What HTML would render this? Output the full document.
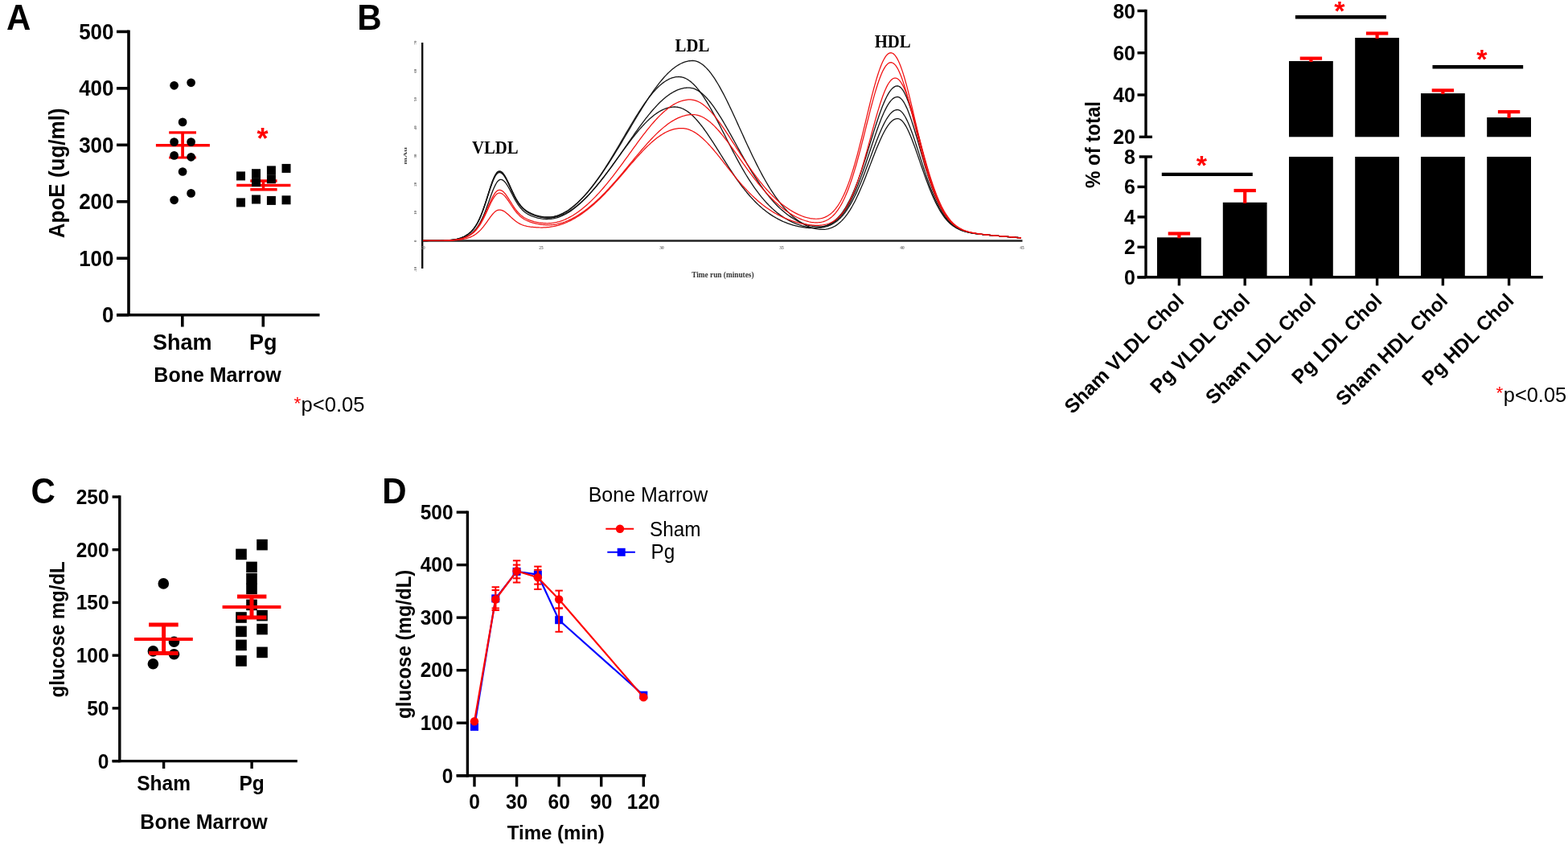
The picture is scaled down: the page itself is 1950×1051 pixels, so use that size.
<!DOCTYPE html>
<html><head><meta charset="utf-8"><title>Figure</title>
<style>html,body{margin:0;padding:0;background:#fff;}svg{display:block;}</style>
</head><body>
<svg width="1950" height="1051" viewBox="0 0 1950 1051">
<rect width="100%" height="100%" fill="#fff"/>
<text transform="translate(7.95,37) scale(1,1.04)" font-family="'Liberation Sans', Arial, sans-serif" font-size="42" font-weight="bold" fill="#000" text-anchor="start">A</text>
<line x1="160" y1="37.6" x2="160" y2="391.7" stroke="#000" stroke-width="3.6" stroke-linecap="butt"/>
<line x1="145" y1="391.7" x2="397.5" y2="391.7" stroke="#000" stroke-width="3.6" stroke-linecap="butt"/>
<line x1="145" y1="391.7" x2="160" y2="391.7" stroke="#000" stroke-width="3.6" stroke-linecap="butt"/>
<text transform="translate(141.5,401) scale(1,1.04)" font-family="'Liberation Sans', Arial, sans-serif" font-size="26" font-weight="bold" fill="#000" text-anchor="end">0</text>
<line x1="145" y1="321.24" x2="160" y2="321.24" stroke="#000" stroke-width="3.6" stroke-linecap="butt"/>
<text transform="translate(141.5,330.54) scale(1,1.04)" font-family="'Liberation Sans', Arial, sans-serif" font-size="26" font-weight="bold" fill="#000" text-anchor="end">100</text>
<line x1="145" y1="250.78" x2="160" y2="250.78" stroke="#000" stroke-width="3.6" stroke-linecap="butt"/>
<text transform="translate(141.5,260.08) scale(1,1.04)" font-family="'Liberation Sans', Arial, sans-serif" font-size="26" font-weight="bold" fill="#000" text-anchor="end">200</text>
<line x1="145" y1="180.32" x2="160" y2="180.32" stroke="#000" stroke-width="3.6" stroke-linecap="butt"/>
<text transform="translate(141.5,189.62) scale(1,1.04)" font-family="'Liberation Sans', Arial, sans-serif" font-size="26" font-weight="bold" fill="#000" text-anchor="end">300</text>
<line x1="145" y1="109.86" x2="160" y2="109.86" stroke="#000" stroke-width="3.6" stroke-linecap="butt"/>
<text transform="translate(141.5,119.16) scale(1,1.04)" font-family="'Liberation Sans', Arial, sans-serif" font-size="26" font-weight="bold" fill="#000" text-anchor="end">400</text>
<line x1="145" y1="39.4" x2="160" y2="39.4" stroke="#000" stroke-width="3.6" stroke-linecap="butt"/>
<text transform="translate(141.5,48.7) scale(1,1.04)" font-family="'Liberation Sans', Arial, sans-serif" font-size="26" font-weight="bold" fill="#000" text-anchor="end">500</text>
<line x1="226.8" y1="391.7" x2="226.8" y2="406.5" stroke="#000" stroke-width="3.6" stroke-linecap="butt"/>
<line x1="327.3" y1="391.7" x2="327.3" y2="406.5" stroke="#000" stroke-width="3.6" stroke-linecap="butt"/>
<text transform="translate(226.8,434.6) scale(1,1.04)" font-family="'Liberation Sans', Arial, sans-serif" font-size="27" font-weight="bold" fill="#000" text-anchor="middle">Sham</text>
<text transform="translate(327.3,434.6) scale(1,1.04)" font-family="'Liberation Sans', Arial, sans-serif" font-size="27" font-weight="bold" fill="#000" text-anchor="middle">Pg</text>
<text transform="translate(270.5,475.2) scale(1,1.04)" font-family="'Liberation Sans', Arial, sans-serif" font-size="25" font-weight="bold" fill="#000" text-anchor="middle">Bone Marrow</text>
<text transform="translate(80,215.3) rotate(-90) scale(1,1.04)" font-family="'Liberation Sans', Arial, sans-serif" font-size="26" font-weight="bold" fill="#000" text-anchor="middle">ApoE (ug/ml)</text>
<text transform="translate(374.5,512.2)" font-family="'Liberation Sans', Arial, sans-serif" font-size="25.6" font-weight="normal" fill="#000" text-anchor="start">p&lt;0.05</text>
<text transform="translate(365.41,509.23)" font-family="'Liberation Sans', Arial, sans-serif" font-size="22.5" font-weight="normal" fill="#ff0000" text-anchor="start">*</text>
<line x1="193.9" y1="180.7" x2="260.9" y2="180.7" stroke="#ff0000" stroke-width="3.5" stroke-linecap="butt"/>
<line x1="227.1" y1="164.8" x2="227.1" y2="196" stroke="#ff0000" stroke-width="3.8" stroke-linecap="butt"/>
<line x1="210.2" y1="164.8" x2="244" y2="164.8" stroke="#ff0000" stroke-width="3.2" stroke-linecap="butt"/>
<line x1="210.2" y1="196" x2="244" y2="196" stroke="#ff0000" stroke-width="3.2" stroke-linecap="butt"/>
<line x1="294.2" y1="230.4" x2="361.4" y2="230.4" stroke="#ff0000" stroke-width="3.5" stroke-linecap="butt"/>
<line x1="327.5" y1="225" x2="327.5" y2="235.7" stroke="#ff0000" stroke-width="3.5" stroke-linecap="butt"/>
<line x1="311.3" y1="225" x2="344.6" y2="225" stroke="#ff0000" stroke-width="3.5" stroke-linecap="butt"/>
<line x1="311.3" y1="235.7" x2="344.6" y2="235.7" stroke="#ff0000" stroke-width="3.5" stroke-linecap="butt"/>
<circle cx="216.6" cy="106.3" r="5.35" fill="#000"/>
<circle cx="237.6" cy="102.8" r="5.35" fill="#000"/>
<circle cx="227.1" cy="151.9" r="5.35" fill="#000"/>
<circle cx="216.6" cy="176.6" r="5.35" fill="#000"/>
<circle cx="237.6" cy="176.6" r="5.35" fill="#000"/>
<circle cx="216.6" cy="193.4" r="5.35" fill="#000"/>
<circle cx="237.6" cy="195.3" r="5.35" fill="#000"/>
<circle cx="227.1" cy="213.5" r="5.35" fill="#000"/>
<circle cx="237.6" cy="240.4" r="5.35" fill="#000"/>
<circle cx="216.6" cy="248.8" r="5.35" fill="#000"/>
<rect x="294" y="213.4" width="11" height="11" fill="#000"/>
<rect x="313" y="210.2" width="11" height="11" fill="#000"/>
<rect x="331.9" y="206.4" width="11" height="11" fill="#000"/>
<rect x="350.5" y="203.9" width="11" height="11" fill="#000"/>
<rect x="313" y="221.1" width="11" height="11" fill="#000"/>
<rect x="331.9" y="217.2" width="11" height="11" fill="#000"/>
<rect x="294" y="246.4" width="11" height="11" fill="#000"/>
<rect x="313" y="242.5" width="11" height="11" fill="#000"/>
<rect x="331.9" y="243.9" width="11" height="11" fill="#000"/>
<rect x="350.5" y="243.3" width="11" height="11" fill="#000"/>
<text transform="translate(319.46,184.67)" font-family="'Liberation Sans', Arial, sans-serif" font-size="36" font-weight="bold" fill="#ff0000" text-anchor="start">*</text>
<text transform="translate(444.19,37) scale(1,1.04)" font-family="'Liberation Sans', Arial, sans-serif" font-size="42" font-weight="bold" fill="#000" text-anchor="start">B</text>
<g>
<line x1="525.2" y1="53" x2="525.2" y2="334" stroke="#111" stroke-width="2.4" stroke-linecap="butt"/>
<line x1="525.2" y1="299.5" x2="1271.5" y2="299.5" stroke="#222" stroke-width="2.6" stroke-linecap="butt"/>
<text transform="translate(517.6,53) rotate(-90)" font-family="'Liberation Serif', 'Times New Roman', serif" font-size="5" font-weight="bold" fill="#666" text-anchor="middle">70</text>
<text transform="translate(517.6,88.25) rotate(-90)" font-family="'Liberation Serif', 'Times New Roman', serif" font-size="5" font-weight="bold" fill="#666" text-anchor="middle">60</text>
<text transform="translate(517.6,123.5) rotate(-90)" font-family="'Liberation Serif', 'Times New Roman', serif" font-size="5" font-weight="bold" fill="#666" text-anchor="middle">50</text>
<text transform="translate(517.6,158.75) rotate(-90)" font-family="'Liberation Serif', 'Times New Roman', serif" font-size="5" font-weight="bold" fill="#666" text-anchor="middle">40</text>
<text transform="translate(517.6,194) rotate(-90)" font-family="'Liberation Serif', 'Times New Roman', serif" font-size="5" font-weight="bold" fill="#666" text-anchor="middle">30</text>
<text transform="translate(517.6,229.25) rotate(-90)" font-family="'Liberation Serif', 'Times New Roman', serif" font-size="5" font-weight="bold" fill="#666" text-anchor="middle">20</text>
<text transform="translate(517.6,264.5) rotate(-90)" font-family="'Liberation Serif', 'Times New Roman', serif" font-size="5" font-weight="bold" fill="#666" text-anchor="middle">10</text>
<text transform="translate(517.6,299.75) rotate(-90)" font-family="'Liberation Serif', 'Times New Roman', serif" font-size="5" font-weight="bold" fill="#666" text-anchor="middle">0</text>
<text transform="translate(517.6,335) rotate(-90)" font-family="'Liberation Serif', 'Times New Roman', serif" font-size="5" font-weight="bold" fill="#666" text-anchor="middle">-10</text>
<text transform="translate(526,309.5)" font-family="'Liberation Serif', 'Times New Roman', serif" font-size="5.5" font-weight="bold" fill="#777" text-anchor="middle">20</text>
<text transform="translate(673,309.5)" font-family="'Liberation Serif', 'Times New Roman', serif" font-size="5.5" font-weight="bold" fill="#777" text-anchor="middle">25</text>
<text transform="translate(823,309.5)" font-family="'Liberation Serif', 'Times New Roman', serif" font-size="5.5" font-weight="bold" fill="#777" text-anchor="middle">30</text>
<text transform="translate(972,309.5)" font-family="'Liberation Serif', 'Times New Roman', serif" font-size="5.5" font-weight="bold" fill="#777" text-anchor="middle">35</text>
<text transform="translate(1122,309.5)" font-family="'Liberation Serif', 'Times New Roman', serif" font-size="5.5" font-weight="bold" fill="#777" text-anchor="middle">40</text>
<text transform="translate(1271,309.5)" font-family="'Liberation Serif', 'Times New Roman', serif" font-size="5.5" font-weight="bold" fill="#777" text-anchor="middle">45</text>
<text transform="translate(506.3,193.7) rotate(-90) scale(1.45,1)" font-family="'Liberation Serif', 'Times New Roman', serif" font-size="7" font-weight="bold" fill="#444" text-anchor="middle">mAu</text>
<text transform="translate(898.9,344.9)" font-family="'Liberation Serif', 'Times New Roman', serif" font-size="9.3" font-weight="bold" fill="#333" text-anchor="middle">Time run (minutes)</text>
<text transform="translate(615.8,191.1) scale(1,1.07)" font-family="'Liberation Serif', 'Times New Roman', serif" font-size="20.8" font-weight="bold" fill="#000" text-anchor="middle">VLDL</text>
<text transform="translate(861,64) scale(1,1.07)" font-family="'Liberation Serif', 'Times New Roman', serif" font-size="20.8" font-weight="bold" fill="#000" text-anchor="middle">LDL</text>
<text transform="translate(1110.2,58.8) scale(1,1.07)" font-family="'Liberation Serif', 'Times New Roman', serif" font-size="20.8" font-weight="bold" fill="#000" text-anchor="middle">HDL</text>
<path d="M526 299.46 L527.5 299.46 L529 299.45 L530.5 299.45 L532 299.44 L533.5 299.44 L535 299.43 L536.5 299.42 L538 299.41 L539.5 299.39 L541 299.38 L542.5 299.36 L544 299.34 L545.5 299.31 L547 299.28 L548.5 299.24 L550 299.19 L551.5 299.14 L553 299.07 L554.5 299 L556 298.9 L557.5 298.8 L559 298.67 L560.5 298.52 L562 298.34 L563.5 298.14 L565 297.91 L566.5 297.63 L568 297.32 L569.5 296.96 L571 296.56 L572.5 296.09 L574 295.56 L575.5 294.96 L577 294.27 L578.5 293.5 L580 292.63 L581.5 291.65 L583 290.53 L584.5 289.27 L586 287.85 L587.5 286.24 L589 284.42 L590.5 282.38 L592 280.08 L593.5 277.5 L595 274.63 L596.5 271.45 L598 267.95 L599.5 264.15 L601 260.06 L602.5 255.7 L604 251.13 L605.5 246.41 L607 241.62 L608.5 236.86 L610 232.23 L611.5 227.85 L613 223.83 L614.5 220.3 L616 217.35 L617.5 215.08 L619 213.56 L620.5 212.85 L622 212.88 L623.5 213.54 L625 214.79 L626.5 216.57 L628 218.82 L629.5 221.47 L631 224.42 L632.5 227.58 L634 230.86 L635.5 234.19 L637 237.47 L638.5 240.65 L640 243.68 L641.5 246.52 L643 249.15 L644.5 251.55 L646 253.73 L647.5 255.68 L649 257.43 L650.5 258.99 L652 260.37 L653.5 261.61 L655 262.71 L656.5 263.69 L658 264.58 L659.5 265.38 L661 266.11 L662.5 266.77 L664 267.36 L665.5 267.91 L667 268.4 L668.5 268.84 L670 269.23 L671.5 269.57 L673 269.86 L674.5 270.09 L676 270.28 L677.5 270.41 L679 270.48 L680.5 270.5 L682 270.46 L683.5 270.37 L685 270.21 L686.5 270 L688 269.73 L689.5 269.39 L691 269 L692.5 268.56 L694 268.05 L695.5 267.48 L697 266.86 L698.5 266.18 L700 265.44 L701.5 264.64 L703 263.79 L704.5 262.89 L706 261.93 L707.5 260.92 L709 259.86 L710.5 258.74 L712 257.58 L713.5 256.36 L715 255.1 L716.5 253.79 L718 252.43 L719.5 251.02 L721 249.57 L722.5 248.08 L724 246.54 L725.5 244.96 L727 243.33 L728.5 241.66 L730 239.96 L731.5 238.21 L733 236.42 L734.5 234.59 L736 232.73 L737.5 230.83 L739 228.89 L740.5 226.91 L742 224.9 L743.5 222.86 L745 220.78 L746.5 218.67 L748 216.53 L749.5 214.36 L751 212.16 L752.5 209.93 L754 207.67 L755.5 205.38 L757 203.07 L758.5 200.73 L760 198.37 L761.5 195.99 L763 193.59 L764.5 191.17 L766 188.72 L767.5 186.27 L769 183.79 L770.5 181.31 L772 178.81 L773.5 176.3 L775 173.78 L776.5 171.25 L778 168.72 L779.5 166.18 L781 163.64 L782.5 161.1 L784 158.57 L785.5 156.03 L787 153.5 L788.5 150.98 L790 148.47 L791.5 145.96 L793 143.47 L794.5 141 L796 138.54 L797.5 136.1 L799 133.68 L800.5 131.29 L802 128.92 L803.5 126.57 L805 124.26 L806.5 121.98 L808 119.73 L809.5 117.52 L811 115.34 L812.5 113.2 L814 111.1 L815.5 109.05 L817 107.04 L818.5 105.08 L820 103.17 L821.5 101.31 L823 99.5 L824.5 97.75 L826 96.05 L827.5 94.41 L829 92.83 L830.5 91.3 L832 89.85 L833.5 88.45 L835 87.12 L836.5 85.86 L838 84.66 L839.5 83.54 L841 82.48 L842.5 81.49 L844 80.58 L845.5 79.74 L847 78.98 L848.5 78.28 L850 77.67 L851.5 77.13 L853 76.66 L854.5 76.28 L856 75.97 L857.5 75.74 L859 75.58 L860.5 75.51 L862 75.52 L863.5 75.67 L865 75.96 L866.5 76.39 L868 76.96 L869.5 77.66 L871 78.49 L872.5 79.46 L874 80.56 L875.5 81.79 L877 83.15 L878.5 84.63 L880 86.23 L881.5 87.94 L883 89.78 L884.5 91.72 L886 93.77 L887.5 95.93 L889 98.19 L890.5 100.54 L892 102.98 L893.5 105.51 L895 108.13 L896.5 110.82 L898 113.59 L899.5 116.42 L901 119.32 L902.5 122.28 L904 125.3 L905.5 128.36 L907 131.47 L908.5 134.62 L910 137.81 L911.5 141.02 L913 144.27 L914.5 147.53 L916 150.81 L917.5 154.11 L919 157.41 L920.5 160.72 L922 164.02 L923.5 167.32 L925 170.62 L926.5 173.9 L928 177.17 L929.5 180.42 L931 183.64 L932.5 186.84 L934 190.01 L935.5 193.16 L937 196.26 L938.5 199.33 L940 202.36 L941.5 205.35 L943 208.3 L944.5 211.2 L946 214.05 L947.5 216.85 L949 219.6 L950.5 222.3 L952 224.95 L953.5 227.54 L955 230.07 L956.5 232.55 L958 234.97 L959.5 237.33 L961 239.63 L962.5 241.88 L964 244.06 L965.5 246.18 L967 248.24 L968.5 250.25 L970 252.19 L971.5 254.07 L973 255.89 L974.5 257.65 L976 259.36 L977.5 261 L979 262.59 L980.5 264.12 L982 265.59 L983.5 267.01 L985 268.37 L986.5 269.68 L988 270.93 L989.5 272.13 L991 273.27 L992.5 274.36 L994 275.41 L995.5 276.4 L997 277.33 L998.5 278.22 L1000 279.06 L1001.5 279.85 L1003 280.59 L1004.5 281.28 L1006 281.92 L1007.5 282.51 L1009 283.05 L1010.5 283.54 L1012 283.97 L1013.5 284.36 L1015 284.69 L1016.5 284.96 L1018 285.18 L1019.5 285.33 L1021 285.43 L1022.5 285.46 L1024 285.43 L1025.5 285.33 L1027 285.16 L1028.5 284.92 L1030 284.59 L1031.5 284.19 L1033 283.7 L1034.5 283.12 L1036 282.46 L1037.5 281.69 L1039 280.83 L1040.5 279.86 L1042 278.78 L1043.5 277.59 L1045 276.29 L1046.5 274.87 L1048 273.32 L1049.5 271.65 L1051 269.85 L1052.5 267.92 L1054 265.86 L1055.5 263.67 L1057 261.34 L1058.5 258.87 L1060 256.28 L1061.5 253.55 L1063 250.69 L1064.5 247.7 L1066 244.59 L1067.5 241.36 L1069 238.02 L1070.5 234.57 L1072 231.02 L1073.5 227.39 L1075 223.68 L1076.5 219.9 L1078 216.07 L1079.5 212.19 L1081 208.29 L1082.5 204.37 L1084 200.45 L1085.5 196.55 L1087 192.68 L1088.5 188.86 L1090 185.11 L1091.5 181.45 L1093 177.89 L1094.5 174.46 L1096 171.16 L1097.5 168.02 L1099 165.05 L1100.5 162.27 L1102 159.69 L1103.5 157.32 L1105 155.19 L1106.5 153.3 L1108 151.67 L1109.5 150.29 L1111 149.19 L1112.5 148.35 L1114 147.8 L1115.5 147.53 L1117 147.56 L1118.5 148 L1120 148.83 L1121.5 150.05 L1123 151.65 L1124.5 153.62 L1126 155.92 L1127.5 158.55 L1129 161.48 L1130.5 164.68 L1132 168.13 L1133.5 171.8 L1135 175.65 L1136.5 179.67 L1138 183.81 L1139.5 188.05 L1141 192.36 L1142.5 196.71 L1144 201.09 L1145.5 205.46 L1147 209.8 L1148.5 214.1 L1150 218.34 L1151.5 222.5 L1153 226.57 L1154.5 230.53 L1156 234.39 L1157.5 238.11 L1159 241.71 L1160.5 245.17 L1162 248.49 L1163.5 251.66 L1165 254.68 L1166.5 257.54 L1168 260.25 L1169.5 262.81 L1171 265.21 L1172.5 267.45 L1174 269.55 L1175.5 271.5 L1177 273.31 L1178.5 274.99 L1180 276.53 L1181.5 277.95 L1183 279.25 L1184.5 280.45 L1186 281.54 L1187.5 282.53 L1189 283.44 L1190.5 284.26 L1192 285.01 L1193.5 285.68 L1195 286.3 L1196.5 286.85 L1198 287.36 L1199.5 287.82 L1201 288.24 L1202.5 288.62 L1204 288.96 L1205.5 289.28 L1207 289.57 L1208.5 289.84 L1210 290.09 L1211.5 290.32 L1213 290.54 L1214.5 290.74 L1216 290.94 L1217.5 291.12 L1219 291.29 L1220.5 291.46 L1222 291.62 L1223.5 291.78 L1225 291.93 L1226.5 292.07 L1228 292.22 L1229.5 292.36 L1231 292.5 L1232.5 292.64 L1234 292.77 L1235.5 292.91 L1237 293.04 L1238.5 293.18 L1240 293.31 L1241.5 293.44 L1243 293.57 L1244.5 293.7 L1246 293.83 L1247.5 293.97 L1249 294.1 L1250.5 294.23 L1252 294.36 L1253.5 294.49 L1255 294.62 L1256.5 294.75 L1258 294.88 L1259.5 295.01 L1261 295.14 L1262.5 295.27 L1264 295.39 L1265.5 295.52 L1267 295.65 L1268.5 295.78 L1270 295.91" fill="none" stroke="#151515" stroke-width="1.3" stroke-linejoin="round"/>
<path d="M526 299.49 L527.5 299.49 L529 299.48 L530.5 299.48 L532 299.48 L533.5 299.47 L535 299.47 L536.5 299.46 L538 299.45 L539.5 299.44 L541 299.43 L542.5 299.42 L544 299.4 L545.5 299.37 L547 299.35 L548.5 299.31 L550 299.27 L551.5 299.22 L553 299.16 L554.5 299.09 L556 299 L557.5 298.9 L559 298.78 L560.5 298.64 L562 298.47 L563.5 298.28 L565 298.05 L566.5 297.79 L568 297.49 L569.5 297.14 L571 296.74 L572.5 296.28 L574 295.76 L575.5 295.17 L577 294.5 L578.5 293.74 L580 292.89 L581.5 291.91 L583 290.81 L584.5 289.57 L586 288.16 L587.5 286.57 L589 284.77 L590.5 282.73 L592 280.45 L593.5 277.89 L595 275.03 L596.5 271.87 L598 268.4 L599.5 264.61 L601 260.53 L602.5 256.2 L604 251.64 L605.5 246.94 L607 242.17 L608.5 237.43 L610 232.81 L611.5 228.45 L613 224.45 L614.5 220.93 L616 218 L617.5 215.75 L619 214.25 L620.5 213.54 L622 213.59 L623.5 214.26 L625 215.52 L626.5 217.3 L628 219.56 L629.5 222.2 L631 225.14 L632.5 228.28 L634 231.54 L635.5 234.83 L637 238.08 L638.5 241.22 L640 244.2 L641.5 246.98 L643 249.54 L644.5 251.87 L646 253.97 L647.5 255.84 L649 257.51 L650.5 258.98 L652 260.28 L653.5 261.43 L655 262.46 L656.5 263.37 L658 264.19 L659.5 264.94 L661 265.61 L662.5 266.23 L664 266.8 L665.5 267.32 L667 267.79 L668.5 268.22 L670 268.61 L671.5 268.95 L673 269.25 L674.5 269.51 L676 269.71 L677.5 269.86 L679 269.96 L680.5 270.01 L682 270 L683.5 269.94 L685 269.82 L686.5 269.64 L688 269.4 L689.5 269.1 L691 268.75 L692.5 268.33 L694 267.85 L695.5 267.32 L697 266.72 L698.5 266.07 L700 265.35 L701.5 264.58 L703 263.75 L704.5 262.87 L706 261.93 L707.5 260.93 L709 259.88 L710.5 258.77 L712 257.61 L713.5 256.4 L715 255.14 L716.5 253.82 L718 252.46 L719.5 251.05 L721 249.59 L722.5 248.08 L724 246.52 L725.5 244.92 L727 243.27 L728.5 241.58 L730 239.84 L731.5 238.06 L733 236.24 L734.5 234.37 L736 232.47 L737.5 230.52 L739 228.53 L740.5 226.51 L742 224.44 L743.5 222.34 L745 220.2 L746.5 218.02 L748 215.82 L749.5 213.57 L751 211.3 L752.5 208.99 L754 206.65 L755.5 204.29 L757 201.9 L758.5 199.48 L760 197.04 L761.5 194.58 L763 192.1 L764.5 189.6 L766 187.08 L767.5 184.55 L769 182.01 L770.5 179.46 L772 176.9 L773.5 174.34 L775 171.77 L776.5 169.21 L778 166.64 L779.5 164.09 L781 161.54 L782.5 159 L784 156.48 L785.5 153.97 L787 151.48 L788.5 149.01 L790 146.57 L791.5 144.15 L793 141.76 L794.5 139.41 L796 137.09 L797.5 134.8 L799 132.56 L800.5 130.37 L802 128.21 L803.5 126.11 L805 124.06 L806.5 122.06 L808 120.12 L809.5 118.24 L811 116.41 L812.5 114.65 L814 112.96 L815.5 111.33 L817 109.78 L818.5 108.29 L820 106.88 L821.5 105.55 L823 104.29 L824.5 103.11 L826 102.01 L827.5 100.99 L829 100.06 L830.5 99.21 L832 98.44 L833.5 97.77 L835 97.17 L836.5 96.67 L838 96.26 L839.5 95.93 L841 95.7 L842.5 95.55 L844 95.5 L845.5 95.55 L847 95.73 L848.5 96.04 L850 96.47 L851.5 97.02 L853 97.7 L854.5 98.5 L856 99.42 L857.5 100.46 L859 101.62 L860.5 102.89 L862 104.27 L863.5 105.76 L865 107.35 L866.5 109.05 L868 110.85 L869.5 112.75 L871 114.74 L872.5 116.81 L874 118.97 L875.5 121.22 L877 123.54 L878.5 125.93 L880 128.4 L881.5 130.92 L883 133.51 L884.5 136.15 L886 138.85 L887.5 141.59 L889 144.37 L890.5 147.19 L892 150.04 L893.5 152.92 L895 155.82 L896.5 158.74 L898 161.68 L899.5 164.62 L901 167.58 L902.5 170.53 L904 173.48 L905.5 176.43 L907 179.37 L908.5 182.29 L910 185.2 L911.5 188.09 L913 190.95 L914.5 193.78 L916 196.59 L917.5 199.37 L919 202.11 L920.5 204.81 L922 207.48 L923.5 210.1 L925 212.68 L926.5 215.22 L928 217.72 L929.5 220.16 L931 222.56 L932.5 224.91 L934 227.21 L935.5 229.46 L937 231.66 L938.5 233.81 L940 235.91 L941.5 237.95 L943 239.95 L944.5 241.89 L946 243.78 L947.5 245.62 L949 247.4 L950.5 249.14 L952 250.82 L953.5 252.46 L955 254.04 L956.5 255.58 L958 257.06 L959.5 258.5 L961 259.89 L962.5 261.23 L964 262.52 L965.5 263.77 L967 264.97 L968.5 266.13 L970 267.24 L971.5 268.31 L973 269.34 L974.5 270.33 L976 271.27 L977.5 272.18 L979 273.05 L980.5 273.87 L982 274.66 L983.5 275.42 L985 276.13 L986.5 276.82 L988 277.46 L989.5 278.08 L991 278.66 L992.5 279.2 L994 279.72 L995.5 280.2 L997 280.65 L998.5 281.06 L1000 281.45 L1001.5 281.8 L1003 282.12 L1004.5 282.41 L1006 282.67 L1007.5 282.89 L1009 283.07 L1010.5 283.22 L1012 283.34 L1013.5 283.41 L1015 283.44 L1016.5 283.43 L1018 283.38 L1019.5 283.28 L1021 283.13 L1022.5 282.93 L1024 282.68 L1025.5 282.36 L1027 281.99 L1028.5 281.54 L1030 281.03 L1031.5 280.45 L1033 279.79 L1034.5 279.05 L1036 278.22 L1037.5 277.3 L1039 276.29 L1040.5 275.17 L1042 273.95 L1043.5 272.63 L1045 271.19 L1046.5 269.63 L1048 267.96 L1049.5 266.16 L1051 264.23 L1052.5 262.17 L1054 259.98 L1055.5 257.65 L1057 255.19 L1058.5 252.6 L1060 249.87 L1061.5 247 L1063 244 L1064.5 240.87 L1066 237.62 L1067.5 234.24 L1069 230.75 L1070.5 227.16 L1072 223.46 L1073.5 219.67 L1075 215.79 L1076.5 211.85 L1078 207.85 L1079.5 203.81 L1081 199.73 L1082.5 195.64 L1084 191.55 L1085.5 187.48 L1087 183.44 L1088.5 179.46 L1090 175.55 L1091.5 171.72 L1093 168.01 L1094.5 164.42 L1096 160.98 L1097.5 157.7 L1099 154.6 L1100.5 151.7 L1102 149.01 L1103.5 146.55 L1105 144.34 L1106.5 142.38 L1108 140.69 L1109.5 139.27 L1111 138.14 L1112.5 137.3 L1114 136.76 L1115.5 136.52 L1117 136.6 L1118.5 137.1 L1120 138.03 L1121.5 139.38 L1123 141.13 L1124.5 143.27 L1126 145.77 L1127.5 148.62 L1129 151.78 L1130.5 155.24 L1132 158.97 L1133.5 162.92 L1135 167.08 L1136.5 171.41 L1138 175.88 L1139.5 180.45 L1141 185.1 L1142.5 189.8 L1144 194.51 L1145.5 199.23 L1147 203.91 L1148.5 208.55 L1150 213.12 L1151.5 217.61 L1153 221.99 L1154.5 226.27 L1156 230.42 L1157.5 234.44 L1159 238.31 L1160.5 242.04 L1162 245.6 L1163.5 249.01 L1165 252.26 L1166.5 255.33 L1168 258.24 L1169.5 260.98 L1171 263.55 L1172.5 265.96 L1174 268.21 L1175.5 270.3 L1177 272.23 L1178.5 274.02 L1180 275.67 L1181.5 277.19 L1183 278.58 L1184.5 279.85 L1186 281.01 L1187.5 282.07 L1189 283.03 L1190.5 283.91 L1192 284.7 L1193.5 285.42 L1195 286.07 L1196.5 286.65 L1198 287.19 L1199.5 287.67 L1201 288.11 L1202.5 288.51 L1204 288.87 L1205.5 289.2 L1207 289.51 L1208.5 289.78 L1210 290.04 L1211.5 290.28 L1213 290.51 L1214.5 290.71 L1216 290.91 L1217.5 291.1 L1219 291.28 L1220.5 291.44 L1222 291.61 L1223.5 291.77 L1225 291.92 L1226.5 292.07 L1228 292.21 L1229.5 292.36 L1231 292.5 L1232.5 292.63 L1234 292.77 L1235.5 292.91 L1237 293.04 L1238.5 293.18 L1240 293.31 L1241.5 293.44 L1243 293.57 L1244.5 293.7 L1246 293.83 L1247.5 293.96 L1249 294.1 L1250.5 294.23 L1252 294.36 L1253.5 294.49 L1255 294.62 L1256.5 294.75 L1258 294.88 L1259.5 295.01 L1261 295.14 L1262.5 295.26 L1264 295.39 L1265.5 295.52 L1267 295.65 L1268.5 295.78 L1270 295.91" fill="none" stroke="#151515" stroke-width="1.3" stroke-linejoin="round"/>
<path d="M526 299.47 L527.5 299.46 L529 299.46 L530.5 299.45 L532 299.45 L533.5 299.44 L535 299.43 L536.5 299.43 L538 299.41 L539.5 299.4 L541 299.39 L542.5 299.37 L544 299.35 L545.5 299.32 L547 299.29 L548.5 299.25 L550 299.21 L551.5 299.16 L553 299.09 L554.5 299.02 L556 298.93 L557.5 298.82 L559 298.7 L560.5 298.55 L562 298.38 L563.5 298.18 L565 297.95 L566.5 297.69 L568 297.38 L569.5 297.03 L571 296.63 L572.5 296.18 L574 295.66 L575.5 295.07 L577 294.4 L578.5 293.65 L580 292.79 L581.5 291.83 L583 290.74 L584.5 289.5 L586 288.11 L587.5 286.53 L589 284.75 L590.5 282.74 L592 280.49 L593.5 277.96 L595 275.14 L596.5 272.03 L598 268.6 L599.5 264.87 L601 260.86 L602.5 256.58 L604 252.1 L605.5 247.47 L607 242.78 L608.5 238.1 L610 233.56 L611.5 229.26 L613 225.32 L614.5 221.85 L616 218.96 L617.5 216.74 L619 215.25 L620.5 214.54 L622 214.58 L623.5 215.23 L625 216.45 L626.5 218.19 L628 220.4 L629.5 222.99 L631 225.88 L632.5 228.97 L634 232.18 L635.5 235.43 L637 238.63 L638.5 241.74 L640 244.7 L641.5 247.46 L643 250.02 L644.5 252.35 L646 254.46 L647.5 256.36 L649 258.05 L650.5 259.55 L652 260.89 L653.5 262.08 L655 263.14 L656.5 264.09 L658 264.94 L659.5 265.72 L661 266.43 L662.5 267.07 L664 267.66 L665.5 268.2 L667 268.69 L668.5 269.14 L670 269.54 L671.5 269.89 L673 270.2 L674.5 270.46 L676 270.68 L677.5 270.84 L679 270.95 L680.5 271.01 L682 271.02 L683.5 270.98 L685 270.88 L686.5 270.73 L688 270.52 L689.5 270.26 L691 269.94 L692.5 269.57 L694 269.14 L695.5 268.66 L697 268.13 L698.5 267.54 L700 266.9 L701.5 266.21 L703 265.47 L704.5 264.68 L706 263.84 L707.5 262.95 L709 262.02 L710.5 261.04 L712 260.01 L713.5 258.94 L715 257.82 L716.5 256.66 L718 255.47 L719.5 254.23 L721 252.94 L722.5 251.63 L724 250.27 L725.5 248.87 L727 247.44 L728.5 245.97 L730 244.47 L731.5 242.93 L733 241.35 L734.5 239.75 L736 238.11 L737.5 236.44 L739 234.74 L740.5 233.01 L742 231.25 L743.5 229.45 L745 227.64 L746.5 225.79 L748 223.92 L749.5 222.02 L751 220.1 L752.5 218.15 L754 216.18 L755.5 214.19 L757 212.17 L758.5 210.14 L760 208.09 L761.5 206.02 L763 203.93 L764.5 201.83 L766 199.72 L767.5 197.59 L769 195.45 L770.5 193.3 L772 191.15 L773.5 188.99 L775 186.82 L776.5 184.65 L778 182.48 L779.5 180.31 L781 178.13 L782.5 175.97 L784 173.8 L785.5 171.65 L787 169.5 L788.5 167.36 L790 165.24 L791.5 163.13 L793 161.03 L794.5 158.95 L796 156.89 L797.5 154.85 L799 152.84 L800.5 150.85 L802 148.89 L803.5 146.95 L805 145.05 L806.5 143.17 L808 141.33 L809.5 139.53 L811 137.76 L812.5 136.04 L814 134.35 L815.5 132.7 L817 131.1 L818.5 129.55 L820 128.04 L821.5 126.58 L823 125.17 L824.5 123.81 L826 122.51 L827.5 121.26 L829 120.06 L830.5 118.92 L832 117.84 L833.5 116.82 L835 115.85 L836.5 114.95 L838 114.11 L839.5 113.34 L841 112.62 L842.5 111.97 L844 111.39 L845.5 110.87 L847 110.42 L848.5 110.03 L850 109.71 L851.5 109.46 L853 109.27 L854.5 109.15 L856 109.1 L857.5 109.14 L859 109.3 L860.5 109.57 L862 109.96 L863.5 110.47 L865 111.09 L866.5 111.83 L868 112.67 L869.5 113.62 L871 114.69 L872.5 115.85 L874 117.12 L875.5 118.5 L877 119.97 L878.5 121.53 L880 123.19 L881.5 124.93 L883 126.76 L884.5 128.67 L886 130.66 L887.5 132.73 L889 134.86 L890.5 137.06 L892 139.33 L893.5 141.65 L895 144.03 L896.5 146.45 L898 148.93 L899.5 151.45 L901 154 L902.5 156.59 L904 159.2 L905.5 161.85 L907 164.51 L908.5 167.19 L910 169.89 L911.5 172.59 L913 175.3 L914.5 178.02 L916 180.73 L917.5 183.44 L919 186.14 L920.5 188.83 L922 191.5 L923.5 194.16 L925 196.81 L926.5 199.42 L928 202.02 L929.5 204.59 L931 207.13 L932.5 209.64 L934 212.12 L935.5 214.57 L937 216.98 L938.5 219.35 L940 221.68 L941.5 223.98 L943 226.23 L944.5 228.45 L946 230.62 L947.5 232.74 L949 234.83 L950.5 236.86 L952 238.86 L953.5 240.8 L955 242.7 L956.5 244.56 L958 246.36 L959.5 248.12 L961 249.83 L962.5 251.49 L964 253.11 L965.5 254.68 L967 256.2 L968.5 257.67 L970 259.1 L971.5 260.48 L973 261.81 L974.5 263.1 L976 264.34 L977.5 265.54 L979 266.69 L980.5 267.8 L982 268.86 L983.5 269.88 L985 270.86 L986.5 271.8 L988 272.69 L989.5 273.54 L991 274.35 L992.5 275.13 L994 275.86 L995.5 276.55 L997 277.2 L998.5 277.81 L1000 278.38 L1001.5 278.92 L1003 279.41 L1004.5 279.86 L1006 280.27 L1007.5 280.64 L1009 280.96 L1010.5 281.24 L1012 281.47 L1013.5 281.66 L1015 281.8 L1016.5 281.88 L1018 281.91 L1019.5 281.89 L1021 281.81 L1022.5 281.67 L1024 281.46 L1025.5 281.18 L1027 280.83 L1028.5 280.4 L1030 279.9 L1031.5 279.31 L1033 278.63 L1034.5 277.86 L1036 276.99 L1037.5 276.01 L1039 274.93 L1040.5 273.73 L1042 272.42 L1043.5 270.98 L1045 269.42 L1046.5 267.72 L1048 265.89 L1049.5 263.92 L1051 261.8 L1052.5 259.54 L1054 257.13 L1055.5 254.57 L1057 251.86 L1058.5 248.99 L1060 245.98 L1061.5 242.81 L1063 239.5 L1064.5 236.04 L1066 232.44 L1067.5 228.71 L1069 224.84 L1070.5 220.86 L1072 216.77 L1073.5 212.57 L1075 208.29 L1076.5 203.92 L1078 199.49 L1079.5 195.02 L1081 190.51 L1082.5 185.98 L1084 181.45 L1085.5 176.94 L1087 172.48 L1088.5 168.07 L1090 163.74 L1091.5 159.5 L1093 155.39 L1094.5 151.42 L1096 147.61 L1097.5 143.98 L1099 140.55 L1100.5 137.34 L1102 134.37 L1103.5 131.65 L1105 129.2 L1106.5 127.03 L1108 125.15 L1109.5 123.59 L1111 122.33 L1112.5 121.4 L1114 120.79 L1115.5 120.52 L1117 120.61 L1118.5 121.16 L1120 122.18 L1121.5 123.66 L1123 125.59 L1124.5 127.94 L1126 130.7 L1127.5 133.85 L1129 137.34 L1130.5 141.16 L1132 145.28 L1133.5 149.65 L1135 154.25 L1136.5 159.03 L1138 163.97 L1139.5 169.04 L1141 174.19 L1142.5 179.39 L1144 184.62 L1145.5 189.84 L1147 195.04 L1148.5 200.18 L1150 205.25 L1151.5 210.22 L1153 215.09 L1154.5 219.83 L1156 224.43 L1157.5 228.88 L1159 233.17 L1160.5 237.3 L1162 241.24 L1163.5 245.01 L1165 248.6 L1166.5 252 L1168 255.21 L1169.5 258.23 L1171 261.06 L1172.5 263.71 L1174 266.19 L1175.5 268.48 L1177 270.61 L1178.5 272.58 L1180 274.38 L1181.5 276.05 L1183 277.57 L1184.5 278.96 L1186 280.23 L1187.5 281.38 L1189 282.43 L1190.5 283.38 L1192 284.24 L1193.5 285.02 L1195 285.72 L1196.5 286.36 L1198 286.93 L1199.5 287.45 L1201 287.92 L1202.5 288.35 L1204 288.73 L1205.5 289.09 L1207 289.41 L1208.5 289.7 L1210 289.97 L1211.5 290.22 L1213 290.46 L1214.5 290.67 L1216 290.88 L1217.5 291.07 L1219 291.25 L1220.5 291.43 L1222 291.59 L1223.5 291.75 L1225 291.91 L1226.5 292.06 L1228 292.21 L1229.5 292.35 L1231 292.49 L1232.5 292.63 L1234 292.77 L1235.5 292.9 L1237 293.04 L1238.5 293.17 L1240 293.31 L1241.5 293.44 L1243 293.57 L1244.5 293.7 L1246 293.83 L1247.5 293.96 L1249 294.1 L1250.5 294.23 L1252 294.36 L1253.5 294.49 L1255 294.62 L1256.5 294.75 L1258 294.88 L1259.5 295.01 L1261 295.14 L1262.5 295.26 L1264 295.39 L1265.5 295.52 L1267 295.65 L1268.5 295.78 L1270 295.91" fill="none" stroke="#151515" stroke-width="1.3" stroke-linejoin="round"/>
<path d="M526 299.48 L527.5 299.48 L529 299.48 L530.5 299.48 L532 299.47 L533.5 299.47 L535 299.47 L536.5 299.46 L538 299.45 L539.5 299.45 L541 299.44 L542.5 299.42 L544 299.41 L545.5 299.39 L547 299.37 L548.5 299.35 L550 299.31 L551.5 299.28 L553 299.23 L554.5 299.18 L556 299.11 L557.5 299.04 L559 298.95 L560.5 298.84 L562 298.71 L563.5 298.56 L565 298.39 L566.5 298.19 L568 297.96 L569.5 297.69 L571 297.38 L572.5 297.03 L574 296.62 L575.5 296.17 L577 295.64 L578.5 295.05 L580 294.38 L581.5 293.63 L583 292.77 L584.5 291.8 L586 290.71 L587.5 289.47 L589 288.07 L590.5 286.49 L592 284.7 L593.5 282.7 L595 280.45 L596.5 277.94 L598 275.16 L599.5 272.11 L601 268.78 L602.5 265.19 L604 261.37 L605.5 257.35 L607 253.21 L608.5 248.99 L610 244.79 L611.5 240.7 L613 236.82 L614.5 233.25 L616 230.11 L617.5 227.47 L619 225.43 L620.5 224.04 L622 223.36 L623.5 223.35 L625 223.89 L626.5 224.94 L628 226.47 L629.5 228.42 L631 230.72 L632.5 233.28 L634 236.03 L635.5 238.89 L637 241.79 L638.5 244.65 L640 247.43 L641.5 250.07 L643 252.53 L644.5 254.81 L646 256.89 L647.5 258.77 L649 260.44 L650.5 261.94 L652 263.26 L653.5 264.43 L655 265.46 L656.5 266.38 L658 267.2 L659.5 267.93 L661 268.59 L662.5 269.18 L664 269.71 L665.5 270.19 L667 270.63 L668.5 271.02 L670 271.36 L671.5 271.66 L673 271.92 L674.5 272.13 L676 272.29 L677.5 272.41 L679 272.48 L680.5 272.5 L682 272.47 L683.5 272.39 L685 272.25 L686.5 272.07 L688 271.83 L689.5 271.53 L691 271.18 L692.5 270.78 L694 270.32 L695.5 269.81 L697 269.25 L698.5 268.63 L700 267.96 L701.5 267.24 L703 266.46 L704.5 265.64 L706 264.77 L707.5 263.84 L709 262.87 L710.5 261.85 L712 260.78 L713.5 259.67 L715 258.52 L716.5 257.32 L718 256.07 L719.5 254.79 L721 253.46 L722.5 252.1 L724 250.69 L725.5 249.25 L727 247.77 L728.5 246.25 L730 244.7 L731.5 243.11 L733 241.49 L734.5 239.83 L736 238.15 L737.5 236.43 L739 234.69 L740.5 232.91 L742 231.11 L743.5 229.28 L745 227.43 L746.5 225.55 L748 223.65 L749.5 221.73 L751 219.78 L752.5 217.82 L754 215.84 L755.5 213.84 L757 211.83 L758.5 209.81 L760 207.77 L761.5 205.72 L763 203.66 L764.5 201.6 L766 199.53 L767.5 197.46 L769 195.39 L770.5 193.32 L772 191.25 L773.5 189.19 L775 187.13 L776.5 185.08 L778 183.04 L779.5 181.02 L781 179 L782.5 177.01 L784 175.04 L785.5 173.09 L787 171.16 L788.5 169.25 L790 167.38 L791.5 165.53 L793 163.72 L794.5 161.94 L796 160.19 L797.5 158.49 L799 156.82 L800.5 155.2 L802 153.62 L803.5 152.09 L805 150.6 L806.5 149.17 L808 147.78 L809.5 146.45 L811 145.18 L812.5 143.96 L814 142.79 L815.5 141.69 L817 140.65 L818.5 139.67 L820 138.75 L821.5 137.9 L823 137.11 L824.5 136.39 L826 135.74 L827.5 135.15 L829 134.64 L830.5 134.19 L832 133.82 L833.5 133.51 L835 133.28 L836.5 133.11 L838 133.02 L839.5 133 L841 133.08 L842.5 133.26 L844 133.54 L845.5 133.93 L847 134.42 L848.5 135 L850 135.69 L851.5 136.47 L853 137.35 L854.5 138.32 L856 139.39 L857.5 140.54 L859 141.79 L860.5 143.12 L862 144.53 L863.5 146.02 L865 147.59 L866.5 149.24 L868 150.96 L869.5 152.74 L871 154.59 L872.5 156.51 L874 158.48 L875.5 160.5 L877 162.58 L878.5 164.7 L880 166.87 L881.5 169.07 L883 171.32 L884.5 173.59 L886 175.9 L887.5 178.22 L889 180.57 L890.5 182.94 L892 185.32 L893.5 187.71 L895 190.11 L896.5 192.5 L898 194.9 L899.5 197.3 L901 199.68 L902.5 202.06 L904 204.42 L905.5 206.77 L907 209.09 L908.5 211.4 L910 213.68 L911.5 215.93 L913 218.16 L914.5 220.35 L916 222.51 L917.5 224.64 L919 226.73 L920.5 228.78 L922 230.8 L923.5 232.77 L925 234.71 L926.5 236.6 L928 238.45 L929.5 240.26 L931 242.02 L932.5 243.75 L934 245.43 L935.5 247.06 L937 248.66 L938.5 250.21 L940 251.72 L941.5 253.18 L943 254.61 L944.5 255.99 L946 257.33 L947.5 258.63 L949 259.89 L950.5 261.11 L952 262.29 L953.5 263.44 L955 264.54 L956.5 265.61 L958 266.64 L959.5 267.63 L961 268.59 L962.5 269.52 L964 270.41 L965.5 271.26 L967 272.08 L968.5 272.87 L970 273.63 L971.5 274.36 L973 275.06 L974.5 275.72 L976 276.36 L977.5 276.97 L979 277.55 L980.5 278.1 L982 278.63 L983.5 279.13 L985 279.6 L986.5 280.05 L988 280.47 L989.5 280.87 L991 281.24 L992.5 281.59 L994 281.91 L995.5 282.21 L997 282.48 L998.5 282.73 L1000 282.95 L1001.5 283.15 L1003 283.32 L1004.5 283.46 L1006 283.57 L1007.5 283.65 L1009 283.7 L1010.5 283.72 L1012 283.7 L1013.5 283.64 L1015 283.54 L1016.5 283.41 L1018 283.22 L1019.5 282.99 L1021 282.7 L1022.5 282.36 L1024 281.96 L1025.5 281.5 L1027 280.97 L1028.5 280.36 L1030 279.68 L1031.5 278.92 L1033 278.06 L1034.5 277.12 L1036 276.08 L1037.5 274.93 L1039 273.67 L1040.5 272.3 L1042 270.81 L1043.5 269.19 L1045 267.44 L1046.5 265.55 L1048 263.52 L1049.5 261.35 L1051 259.02 L1052.5 256.55 L1054 253.92 L1055.5 251.13 L1057 248.18 L1058.5 245.07 L1060 241.8 L1061.5 238.37 L1063 234.79 L1064.5 231.06 L1066 227.17 L1067.5 223.14 L1069 218.98 L1070.5 214.69 L1072 210.28 L1073.5 205.77 L1075 201.16 L1076.5 196.46 L1078 191.7 L1079.5 186.88 L1081 182.04 L1082.5 177.17 L1084 172.31 L1085.5 167.46 L1087 162.66 L1088.5 157.92 L1090 153.27 L1091.5 148.73 L1093 144.31 L1094.5 140.05 L1096 135.96 L1097.5 132.06 L1099 128.38 L1100.5 124.93 L1102 121.74 L1103.5 118.82 L1105 116.19 L1106.5 113.87 L1108 111.86 L1109.5 110.18 L1111 108.84 L1112.5 107.85 L1114 107.2 L1115.5 106.92 L1117 107.02 L1118.5 107.63 L1120 108.74 L1121.5 110.34 L1123 112.43 L1124.5 114.98 L1126 117.96 L1127.5 121.36 L1129 125.14 L1130.5 129.27 L1132 133.71 L1133.5 138.44 L1135 143.41 L1136.5 148.59 L1138 153.94 L1139.5 159.41 L1141 164.98 L1142.5 170.62 L1144 176.28 L1145.5 181.93 L1147 187.56 L1148.5 193.13 L1150 198.62 L1151.5 204 L1153 209.27 L1154.5 214.4 L1156 219.38 L1157.5 224.2 L1159 228.84 L1160.5 233.3 L1162 237.57 L1163.5 241.65 L1165 245.52 L1166.5 249.19 L1168 252.65 L1169.5 255.91 L1171 258.96 L1172.5 261.82 L1174 264.48 L1175.5 266.95 L1177 269.24 L1178.5 271.35 L1180 273.3 L1181.5 275.08 L1183 276.72 L1184.5 278.21 L1186 279.57 L1187.5 280.8 L1189 281.92 L1190.5 282.94 L1192 283.85 L1193.5 284.68 L1195 285.43 L1196.5 286.11 L1198 286.72 L1199.5 287.27 L1201 287.76 L1202.5 288.21 L1204 288.62 L1205.5 288.99 L1207 289.32 L1208.5 289.63 L1210 289.91 L1211.5 290.17 L1213 290.41 L1214.5 290.64 L1216 290.85 L1217.5 291.05 L1219 291.23 L1220.5 291.41 L1222 291.58 L1223.5 291.74 L1225 291.9 L1226.5 292.05 L1228 292.2 L1229.5 292.35 L1231 292.49 L1232.5 292.63 L1234 292.77 L1235.5 292.9 L1237 293.04 L1238.5 293.17 L1240 293.31 L1241.5 293.44 L1243 293.57 L1244.5 293.7 L1246 293.83 L1247.5 293.96 L1249 294.09 L1250.5 294.23 L1252 294.36 L1253.5 294.49 L1255 294.62 L1256.5 294.75 L1258 294.88 L1259.5 295.01 L1261 295.14 L1262.5 295.26 L1264 295.39 L1265.5 295.52 L1267 295.65 L1268.5 295.78 L1270 295.91" fill="none" stroke="#151515" stroke-width="1.3" stroke-linejoin="round"/>
<path d="M526 299.48 L527.5 299.48 L529 299.48 L530.5 299.48 L532 299.47 L533.5 299.47 L535 299.47 L536.5 299.46 L538 299.45 L539.5 299.45 L541 299.44 L542.5 299.42 L544 299.41 L545.5 299.39 L547 299.37 L548.5 299.34 L550 299.31 L551.5 299.27 L553 299.23 L554.5 299.17 L556 299.11 L557.5 299.03 L559 298.94 L560.5 298.84 L562 298.71 L563.5 298.57 L565 298.4 L566.5 298.21 L568 297.98 L569.5 297.72 L571 297.43 L572.5 297.09 L574 296.71 L575.5 296.27 L577 295.78 L578.5 295.22 L580 294.59 L581.5 293.87 L583 293.06 L584.5 292.14 L586 291.11 L587.5 289.94 L589 288.61 L590.5 287.12 L592 285.44 L593.5 283.56 L595 281.47 L596.5 279.14 L598 276.59 L599.5 273.82 L601 270.82 L602.5 267.64 L604 264.3 L605.5 260.85 L607 257.35 L608.5 253.87 L610 250.49 L611.5 247.29 L613 244.35 L614.5 241.77 L616 239.61 L617.5 237.96 L619 236.85 L620.5 236.33 L622 236.36 L623.5 236.85 L625 237.76 L626.5 239.07 L628 240.71 L629.5 242.65 L631 244.8 L632.5 247.1 L634 249.49 L635.5 251.91 L637 254.29 L638.5 256.59 L640 258.78 L641.5 260.83 L643 262.72 L644.5 264.44 L646 265.99 L647.5 267.38 L649 268.61 L650.5 269.71 L652 270.68 L653.5 271.54 L655 272.3 L656.5 272.98 L658 273.59 L659.5 274.15 L661 274.65 L662.5 275.1 L664 275.52 L665.5 275.9 L667 276.24 L668.5 276.55 L670 276.83 L671.5 277.07 L673 277.28 L674.5 277.45 L676 277.59 L677.5 277.68 L679 277.74 L680.5 277.75 L682 277.73 L683.5 277.66 L685 277.55 L686.5 277.4 L688 277.21 L689.5 276.97 L691 276.68 L692.5 276.35 L694 275.98 L695.5 275.56 L697 275.1 L698.5 274.6 L700 274.05 L701.5 273.46 L703 272.83 L704.5 272.15 L706 271.44 L707.5 270.68 L709 269.88 L710.5 269.04 L712 268.17 L713.5 267.25 L715 266.29 L716.5 265.3 L718 264.27 L719.5 263.2 L721 262.1 L722.5 260.96 L724 259.78 L725.5 258.57 L727 257.32 L728.5 256.04 L730 254.73 L731.5 253.38 L733 252 L734.5 250.58 L736 249.13 L737.5 247.66 L739 246.14 L740.5 244.6 L742 243.03 L743.5 241.43 L745 239.8 L746.5 238.13 L748 236.44 L749.5 234.72 L751 232.98 L752.5 231.2 L754 229.41 L755.5 227.58 L757 225.73 L758.5 223.86 L760 221.97 L761.5 220.05 L763 218.11 L764.5 216.16 L766 214.19 L767.5 212.2 L769 210.19 L770.5 208.17 L772 206.14 L773.5 204.09 L775 202.04 L776.5 199.98 L778 197.91 L779.5 195.84 L781 193.76 L782.5 191.68 L784 189.6 L785.5 187.52 L787 185.45 L788.5 183.38 L790 181.31 L791.5 179.26 L793 177.22 L794.5 175.19 L796 173.17 L797.5 171.17 L799 169.19 L800.5 167.22 L802 165.28 L803.5 163.37 L805 161.48 L806.5 159.61 L808 157.78 L809.5 155.97 L811 154.2 L812.5 152.47 L814 150.77 L815.5 149.11 L817 147.49 L818.5 145.91 L820 144.37 L821.5 142.88 L823 141.44 L824.5 140.04 L826 138.7 L827.5 137.4 L829 136.16 L830.5 134.97 L832 133.84 L833.5 132.76 L835 131.74 L836.5 130.78 L838 129.88 L839.5 129.04 L841 128.26 L842.5 127.54 L844 126.88 L845.5 126.29 L847 125.77 L848.5 125.3 L850 124.91 L851.5 124.57 L853 124.31 L854.5 124.11 L856 123.97 L857.5 123.9 L859 123.92 L860.5 124.04 L862 124.27 L863.5 124.6 L865 125.04 L866.5 125.58 L868 126.22 L869.5 126.97 L871 127.81 L872.5 128.75 L874 129.78 L875.5 130.9 L877 132.12 L878.5 133.42 L880 134.81 L881.5 136.27 L883 137.82 L884.5 139.43 L886 141.12 L887.5 142.88 L889 144.7 L890.5 146.59 L892 148.52 L893.5 150.52 L895 152.56 L896.5 154.64 L898 156.77 L899.5 158.93 L901 161.13 L902.5 163.36 L904 165.61 L905.5 167.88 L907 170.17 L908.5 172.48 L910 174.79 L911.5 177.12 L913 179.45 L914.5 181.77 L916 184.1 L917.5 186.42 L919 188.74 L920.5 191.04 L922 193.33 L923.5 195.61 L925 197.87 L926.5 200.11 L928 202.33 L929.5 204.53 L931 206.71 L932.5 208.86 L934 210.98 L935.5 213.08 L937 215.14 L938.5 217.18 L940 219.19 L941.5 221.16 L943 223.11 L944.5 225.02 L946 226.89 L947.5 228.73 L949 230.54 L950.5 232.31 L952 234.05 L953.5 235.75 L955 237.41 L956.5 239.04 L958 240.63 L959.5 242.18 L961 243.69 L962.5 245.17 L964 246.6 L965.5 248 L967 249.36 L968.5 250.68 L970 251.96 L971.5 253.2 L973 254.4 L974.5 255.57 L976 256.69 L977.5 257.78 L979 258.83 L980.5 259.84 L982 260.81 L983.5 261.75 L985 262.65 L986.5 263.51 L988 264.33 L989.5 265.12 L991 265.87 L992.5 266.58 L994 267.25 L995.5 267.89 L997 268.49 L998.5 269.05 L1000 269.57 L1001.5 270.05 L1003 270.48 L1004.5 270.88 L1006 271.23 L1007.5 271.53 L1009 271.78 L1010.5 271.98 L1012 272.13 L1013.5 272.22 L1015 272.25 L1016.5 272.21 L1018 272.1 L1019.5 271.92 L1021 271.66 L1022.5 271.31 L1024 270.87 L1025.5 270.33 L1027 269.69 L1028.5 268.93 L1030 268.06 L1031.5 267.06 L1033 265.92 L1034.5 264.64 L1036 263.21 L1037.5 261.61 L1039 259.85 L1040.5 257.92 L1042 255.8 L1043.5 253.48 L1045 250.97 L1046.5 248.25 L1048 245.32 L1049.5 242.18 L1051 238.81 L1052.5 235.22 L1054 231.41 L1055.5 227.37 L1057 223.11 L1058.5 218.62 L1060 213.92 L1061.5 209.01 L1063 203.9 L1064.5 198.59 L1066 193.11 L1067.5 187.46 L1069 181.66 L1070.5 175.73 L1072 169.69 L1073.5 163.56 L1075 157.37 L1076.5 151.14 L1078 144.9 L1079.5 138.69 L1081 132.52 L1082.5 126.43 L1084 120.46 L1085.5 114.64 L1087 109 L1088.5 103.58 L1090 98.4 L1091.5 93.5 L1093 88.91 L1094.5 84.66 L1096 80.78 L1097.5 77.3 L1099 74.24 L1100.5 71.62 L1102 69.46 L1103.5 67.77 L1105 66.57 L1106.5 65.87 L1108 65.68 L1109.5 65.99 L1111 66.83 L1112.5 68.18 L1114 70.04 L1115.5 72.4 L1117 75.23 L1118.5 78.52 L1120 82.25 L1121.5 86.39 L1123 90.9 L1124.5 95.77 L1126 100.96 L1127.5 106.43 L1129 112.14 L1130.5 118.07 L1132 124.17 L1133.5 130.4 L1135 136.74 L1136.5 143.14 L1138 149.58 L1139.5 156.01 L1141 162.42 L1142.5 168.76 L1144 175.02 L1145.5 181.17 L1147 187.2 L1148.5 193.09 L1150 198.82 L1151.5 204.38 L1153 209.76 L1154.5 214.95 L1156 219.95 L1157.5 224.75 L1159 229.35 L1160.5 233.74 L1162 237.93 L1163.5 241.91 L1165 245.68 L1166.5 249.25 L1168 252.61 L1169.5 255.77 L1171 258.74 L1172.5 261.51 L1174 264.09 L1175.5 266.5 L1177 268.73 L1178.5 270.8 L1180 272.71 L1181.5 274.47 L1183 276.08 L1184.5 277.56 L1186 278.92 L1187.5 280.16 L1189 281.3 L1190.5 282.33 L1192 283.27 L1193.5 284.12 L1195 284.9 L1196.5 285.6 L1198 286.24 L1199.5 286.82 L1201 287.35 L1202.5 287.83 L1204 288.27 L1205.5 288.67 L1207 289.03 L1208.5 289.37 L1210 289.68 L1211.5 289.96 L1213 290.22 L1214.5 290.47 L1216 290.7 L1217.5 290.91 L1219 291.11 L1220.5 291.31 L1222 291.49 L1223.5 291.66 L1225 291.83 L1226.5 291.99 L1228 292.15 L1229.5 292.3 L1231 292.45 L1232.5 292.6 L1234 292.74 L1235.5 292.88 L1237 293.02 L1238.5 293.16 L1240 293.29 L1241.5 293.43 L1243 293.56 L1244.5 293.69 L1246 293.83 L1247.5 293.96 L1249 294.09 L1250.5 294.22 L1252 294.35 L1253.5 294.48 L1255 294.61 L1256.5 294.74 L1258 294.87 L1259.5 295 L1261 295.13 L1262.5 295.26 L1264 295.39 L1265.5 295.52 L1267 295.65 L1268.5 295.78 L1270 295.91" fill="none" stroke="#f01010" stroke-width="1.25" stroke-linejoin="round"/>
<path d="M526 299.48 L527.5 299.48 L529 299.48 L530.5 299.48 L532 299.47 L533.5 299.47 L535 299.46 L536.5 299.46 L538 299.45 L539.5 299.44 L541 299.43 L542.5 299.42 L544 299.41 L545.5 299.39 L547 299.37 L548.5 299.34 L550 299.31 L551.5 299.28 L553 299.23 L554.5 299.18 L556 299.12 L557.5 299.05 L559 298.96 L560.5 298.86 L562 298.75 L563.5 298.61 L565 298.45 L566.5 298.26 L568 298.05 L569.5 297.81 L571 297.53 L572.5 297.21 L574 296.85 L575.5 296.44 L577 295.97 L578.5 295.45 L580 294.85 L581.5 294.17 L583 293.41 L584.5 292.55 L586 291.57 L587.5 290.47 L589 289.22 L590.5 287.82 L592 286.24 L593.5 284.47 L595 282.49 L596.5 280.31 L598 277.91 L599.5 275.29 L601 272.48 L602.5 269.48 L604 266.34 L605.5 263.09 L607 259.8 L608.5 256.52 L610 253.34 L611.5 250.33 L613 247.56 L614.5 245.14 L616 243.11 L617.5 241.56 L619 240.52 L620.5 240.03 L622 240.06 L623.5 240.52 L625 241.39 L626.5 242.62 L628 244.18 L629.5 246 L631 248.04 L632.5 250.22 L634 252.48 L635.5 254.76 L637 257.02 L638.5 259.21 L640 261.29 L641.5 263.24 L643 265.04 L644.5 266.68 L646 268.16 L647.5 269.5 L649 270.68 L650.5 271.74 L652 272.68 L653.5 273.52 L655 274.27 L656.5 274.94 L658 275.54 L659.5 276.09 L661 276.59 L662.5 277.04 L664 277.46 L665.5 277.84 L667 278.19 L668.5 278.51 L670 278.79 L671.5 279.04 L673 279.26 L674.5 279.45 L676 279.6 L677.5 279.71 L679 279.79 L680.5 279.83 L682 279.84 L683.5 279.8 L685 279.73 L686.5 279.61 L688 279.46 L689.5 279.26 L691 279.03 L692.5 278.76 L694 278.44 L695.5 278.09 L697 277.7 L698.5 277.26 L700 276.79 L701.5 276.28 L703 275.74 L704.5 275.15 L706 274.53 L707.5 273.87 L709 273.17 L710.5 272.44 L712 271.67 L713.5 270.87 L715 270.04 L716.5 269.17 L718 268.27 L719.5 267.33 L721 266.37 L722.5 265.37 L724 264.34 L725.5 263.28 L727 262.19 L728.5 261.07 L730 259.92 L731.5 258.74 L733 257.53 L734.5 256.3 L736 255.03 L737.5 253.74 L739 252.42 L740.5 251.08 L742 249.71 L743.5 248.31 L745 246.88 L746.5 245.44 L748 243.96 L749.5 242.47 L751 240.95 L752.5 239.4 L754 237.84 L755.5 236.25 L757 234.64 L758.5 233.01 L760 231.37 L761.5 229.7 L763 228.02 L764.5 226.32 L766 224.6 L767.5 222.87 L769 221.13 L770.5 219.37 L772 217.6 L773.5 215.82 L775 214.03 L776.5 212.24 L778 210.44 L779.5 208.63 L781 206.82 L782.5 205 L784 203.19 L785.5 201.37 L787 199.56 L788.5 197.75 L790 195.94 L791.5 194.14 L793 192.35 L794.5 190.56 L796 188.79 L797.5 187.03 L799 185.28 L800.5 183.54 L802 181.83 L803.5 180.13 L805 178.45 L806.5 176.79 L808 175.16 L809.5 173.55 L811 171.96 L812.5 170.4 L814 168.87 L815.5 167.38 L817 165.91 L818.5 164.48 L820 163.08 L821.5 161.71 L823 160.39 L824.5 159.1 L826 157.86 L827.5 156.65 L829 155.49 L830.5 154.37 L832 153.29 L833.5 152.26 L835 151.28 L836.5 150.35 L838 149.46 L839.5 148.63 L841 147.84 L842.5 147.11 L844 146.43 L845.5 145.8 L847 145.23 L848.5 144.7 L850 144.24 L851.5 143.82 L853 143.47 L854.5 143.17 L856 142.92 L857.5 142.73 L859 142.59 L860.5 142.51 L862 142.5 L863.5 142.58 L865 142.75 L866.5 143.02 L868 143.38 L869.5 143.83 L871 144.38 L872.5 145.01 L874 145.74 L875.5 146.55 L877 147.45 L878.5 148.43 L880 149.49 L881.5 150.63 L883 151.84 L884.5 153.13 L886 154.49 L887.5 155.92 L889 157.42 L890.5 158.97 L892 160.59 L893.5 162.26 L895 163.98 L896.5 165.75 L898 167.57 L899.5 169.43 L901 171.33 L902.5 173.27 L904 175.24 L905.5 177.23 L907 179.25 L908.5 181.3 L910 183.36 L911.5 185.44 L913 187.53 L914.5 189.63 L916 191.74 L917.5 193.85 L919 195.96 L920.5 198.08 L922 200.18 L923.5 202.29 L925 204.38 L926.5 206.47 L928 208.54 L929.5 210.6 L931 212.64 L932.5 214.67 L934 216.67 L935.5 218.66 L937 220.62 L938.5 222.56 L940 224.48 L941.5 226.37 L943 228.24 L944.5 230.08 L946 231.89 L947.5 233.67 L949 235.42 L950.5 237.14 L952 238.82 L953.5 240.48 L955 242.1 L956.5 243.69 L958 245.25 L959.5 246.77 L961 248.25 L962.5 249.7 L964 251.11 L965.5 252.49 L967 253.83 L968.5 255.13 L970 256.4 L971.5 257.63 L973 258.83 L974.5 259.98 L976 261.1 L977.5 262.19 L979 263.23 L980.5 264.24 L982 265.21 L983.5 266.15 L985 267.05 L986.5 267.92 L988 268.74 L989.5 269.53 L991 270.29 L992.5 271.01 L994 271.69 L995.5 272.33 L997 272.94 L998.5 273.51 L1000 274.03 L1001.5 274.52 L1003 274.97 L1004.5 275.37 L1006 275.74 L1007.5 276.05 L1009 276.32 L1010.5 276.53 L1012 276.69 L1013.5 276.8 L1015 276.84 L1016.5 276.82 L1018 276.73 L1019.5 276.57 L1021 276.33 L1022.5 276.01 L1024 275.6 L1025.5 275.09 L1027 274.48 L1028.5 273.76 L1030 272.93 L1031.5 271.97 L1033 270.88 L1034.5 269.65 L1036 268.28 L1037.5 266.75 L1039 265.06 L1040.5 263.19 L1042 261.15 L1043.5 258.92 L1045 256.5 L1046.5 253.88 L1048 251.06 L1049.5 248.03 L1051 244.79 L1052.5 241.33 L1054 237.65 L1055.5 233.76 L1057 229.65 L1058.5 225.32 L1060 220.79 L1061.5 216.06 L1063 211.13 L1064.5 206.01 L1066 200.73 L1067.5 195.28 L1069 189.69 L1070.5 183.98 L1072 178.15 L1073.5 172.25 L1075 166.28 L1076.5 160.28 L1078 154.27 L1079.5 148.28 L1081 142.34 L1082.5 136.47 L1084 130.72 L1085.5 125.11 L1087 119.68 L1088.5 114.44 L1090 109.45 L1091.5 104.72 L1093 100.3 L1094.5 96.2 L1096 92.45 L1097.5 89.08 L1099 86.11 L1100.5 83.56 L1102 81.46 L1103.5 79.81 L1105 78.62 L1106.5 77.91 L1108 77.69 L1109.5 77.95 L1111 78.71 L1112.5 79.96 L1114 81.69 L1115.5 83.9 L1117 86.56 L1118.5 89.66 L1120 93.18 L1121.5 97.08 L1123 101.35 L1124.5 105.96 L1126 110.86 L1127.5 116.03 L1129 121.44 L1130.5 127.05 L1132 132.83 L1133.5 138.73 L1135 144.73 L1136.5 150.8 L1138 156.89 L1139.5 162.98 L1141 169.04 L1142.5 175.04 L1144 180.96 L1145.5 186.79 L1147 192.49 L1148.5 198.06 L1150 203.48 L1151.5 208.74 L1153 213.83 L1154.5 218.74 L1156 223.47 L1157.5 228.02 L1159 232.37 L1160.5 236.53 L1162 240.5 L1163.5 244.27 L1165 247.84 L1166.5 251.22 L1168 254.41 L1169.5 257.41 L1171 260.23 L1172.5 262.86 L1174 265.31 L1175.5 267.6 L1177 269.72 L1178.5 271.69 L1180 273.5 L1181.5 275.18 L1183 276.72 L1184.5 278.13 L1186 279.42 L1187.5 280.61 L1189 281.69 L1190.5 282.67 L1192 283.57 L1193.5 284.39 L1195 285.13 L1196.5 285.8 L1198 286.42 L1199.5 286.98 L1201 287.48 L1202.5 287.95 L1204 288.37 L1205.5 288.76 L1207 289.11 L1208.5 289.43 L1210 289.73 L1211.5 290.01 L1213 290.26 L1214.5 290.5 L1216 290.73 L1217.5 290.94 L1219 291.14 L1220.5 291.32 L1222 291.5 L1223.5 291.68 L1225 291.84 L1226.5 292 L1228 292.16 L1229.5 292.31 L1231 292.46 L1232.5 292.6 L1234 292.74 L1235.5 292.88 L1237 293.02 L1238.5 293.16 L1240 293.29 L1241.5 293.43 L1243 293.56 L1244.5 293.7 L1246 293.83 L1247.5 293.96 L1249 294.09 L1250.5 294.22 L1252 294.35 L1253.5 294.48 L1255 294.61 L1256.5 294.74 L1258 294.87 L1259.5 295 L1261 295.13 L1262.5 295.26 L1264 295.39 L1265.5 295.52 L1267 295.65 L1268.5 295.78 L1270 295.91" fill="none" stroke="#f01010" stroke-width="1.25" stroke-linejoin="round"/>
<path d="M526 299.49 L527.5 299.49 L529 299.49 L530.5 299.49 L532 299.49 L533.5 299.49 L535 299.48 L536.5 299.48 L538 299.48 L539.5 299.47 L541 299.47 L542.5 299.46 L544 299.45 L545.5 299.44 L547 299.43 L548.5 299.41 L550 299.39 L551.5 299.37 L553 299.34 L554.5 299.31 L556 299.27 L557.5 299.23 L559 299.17 L560.5 299.11 L562 299.03 L563.5 298.95 L565 298.84 L566.5 298.73 L568 298.59 L569.5 298.43 L571 298.26 L572.5 298.05 L574 297.82 L575.5 297.55 L577 297.25 L578.5 296.92 L580 296.53 L581.5 296.1 L583 295.61 L584.5 295.05 L586 294.42 L587.5 293.71 L589 292.9 L590.5 292 L592 290.98 L593.5 289.84 L595 288.56 L596.5 287.15 L598 285.6 L599.5 283.91 L601 282.09 L602.5 280.16 L604 278.12 L605.5 276.03 L607 273.89 L608.5 271.77 L610 269.71 L611.5 267.76 L613 265.97 L614.5 264.39 L616 263.07 L617.5 262.05 L619 261.36 L620.5 261.02 L622 261.02 L623.5 261.29 L625 261.82 L626.5 262.58 L628 263.54 L629.5 264.68 L631 265.94 L632.5 267.29 L634 268.69 L635.5 270.1 L637 271.48 L638.5 272.81 L640 274.07 L641.5 275.23 L643 276.29 L644.5 277.25 L646 278.09 L647.5 278.84 L649 279.48 L650.5 280.04 L652 280.53 L653.5 280.94 L655 281.29 L656.5 281.6 L658 281.86 L659.5 282.09 L661 282.28 L662.5 282.45 L664 282.6 L665.5 282.72 L667 282.82 L668.5 282.9 L670 282.96 L671.5 283 L673 283.02 L674.5 283.01 L676 282.98 L677.5 282.92 L679 282.83 L680.5 282.72 L682 282.58 L683.5 282.41 L685 282.2 L686.5 281.97 L688 281.71 L689.5 281.41 L691 281.08 L692.5 280.72 L694 280.33 L695.5 279.9 L697 279.44 L698.5 278.95 L700 278.42 L701.5 277.86 L703 277.27 L704.5 276.65 L706 275.99 L707.5 275.3 L709 274.58 L710.5 273.82 L712 273.04 L713.5 272.22 L715 271.37 L716.5 270.49 L718 269.58 L719.5 268.64 L721 267.67 L722.5 266.67 L724 265.64 L725.5 264.58 L727 263.49 L728.5 262.37 L730 261.22 L731.5 260.04 L733 258.84 L734.5 257.6 L736 256.34 L737.5 255.05 L739 253.74 L740.5 252.39 L742 251.02 L743.5 249.62 L745 248.2 L746.5 246.75 L748 245.28 L749.5 243.78 L751 242.26 L752.5 240.72 L754 239.15 L755.5 237.57 L757 235.96 L758.5 234.33 L760 232.69 L761.5 231.03 L763 229.35 L764.5 227.65 L766 225.95 L767.5 224.23 L769 222.5 L770.5 220.76 L772 219.01 L773.5 217.26 L775 215.5 L776.5 213.74 L778 211.98 L779.5 210.22 L781 208.46 L782.5 206.7 L784 204.95 L785.5 203.21 L787 201.47 L788.5 199.75 L790 198.04 L791.5 196.35 L793 194.67 L794.5 193.01 L796 191.37 L797.5 189.75 L799 188.16 L800.5 186.59 L802 185.05 L803.5 183.54 L805 182.07 L806.5 180.62 L808 179.21 L809.5 177.84 L811 176.51 L812.5 175.21 L814 173.96 L815.5 172.75 L817 171.59 L818.5 170.47 L820 169.4 L821.5 168.38 L823 167.41 L824.5 166.49 L826 165.62 L827.5 164.81 L829 164.05 L830.5 163.35 L832 162.7 L833.5 162.11 L835 161.58 L836.5 161.11 L838 160.7 L839.5 160.35 L841 160.06 L842.5 159.83 L844 159.66 L845.5 159.55 L847 159.5 L848.5 159.53 L850 159.64 L851.5 159.83 L853 160.12 L854.5 160.48 L856 160.93 L857.5 161.46 L859 162.07 L860.5 162.77 L862 163.54 L863.5 164.39 L865 165.31 L866.5 166.3 L868 167.37 L869.5 168.51 L871 169.71 L872.5 170.97 L874 172.3 L875.5 173.68 L877 175.13 L878.5 176.62 L880 178.17 L881.5 179.76 L883 181.39 L884.5 183.07 L886 184.78 L887.5 186.53 L889 188.31 L890.5 190.12 L892 191.95 L893.5 193.8 L895 195.67 L896.5 197.56 L898 199.46 L899.5 201.36 L901 203.28 L902.5 205.19 L904 207.11 L905.5 209.02 L907 210.92 L908.5 212.82 L910 214.71 L911.5 216.58 L913 218.44 L914.5 220.27 L916 222.1 L917.5 223.89 L919 225.67 L920.5 227.42 L922 229.15 L923.5 230.85 L925 232.52 L926.5 234.17 L928 235.78 L929.5 237.36 L931 238.92 L932.5 240.44 L934 241.93 L935.5 243.39 L937 244.82 L938.5 246.22 L940 247.58 L941.5 248.92 L943 250.22 L944.5 251.49 L946 252.73 L947.5 253.94 L949 255.12 L950.5 256.26 L952 257.38 L953.5 258.46 L955 259.52 L956.5 260.54 L958 261.54 L959.5 262.5 L961 263.44 L962.5 264.35 L964 265.23 L965.5 266.08 L967 266.9 L968.5 267.69 L970 268.46 L971.5 269.2 L973 269.91 L974.5 270.6 L976 271.26 L977.5 271.9 L979 272.51 L980.5 273.1 L982 273.66 L983.5 274.2 L985 274.72 L986.5 275.21 L988 275.68 L989.5 276.13 L991 276.56 L992.5 276.96 L994 277.34 L995.5 277.71 L997 278.05 L998.5 278.37 L1000 278.67 L1001.5 278.94 L1003 279.2 L1004.5 279.43 L1006 279.64 L1007.5 279.82 L1009 279.98 L1010.5 280.11 L1012 280.21 L1013.5 280.29 L1015 280.33 L1016.5 280.33 L1018 280.3 L1019.5 280.23 L1021 280.11 L1022.5 279.95 L1024 279.73 L1025.5 279.46 L1027 279.13 L1028.5 278.73 L1030 278.26 L1031.5 277.72 L1033 277.09 L1034.5 276.36 L1036 275.54 L1037.5 274.62 L1039 273.58 L1040.5 272.42 L1042 271.13 L1043.5 269.71 L1045 268.14 L1046.5 266.42 L1048 264.54 L1049.5 262.5 L1051 260.28 L1052.5 257.88 L1054 255.29 L1055.5 252.51 L1057 249.54 L1058.5 246.37 L1060 242.99 L1061.5 239.42 L1063 235.64 L1064.5 231.67 L1066 227.49 L1067.5 223.13 L1069 218.59 L1070.5 213.87 L1072 208.98 L1073.5 203.95 L1075 198.78 L1076.5 193.5 L1078 188.11 L1079.5 182.64 L1081 177.12 L1082.5 171.57 L1084 166.01 L1085.5 160.47 L1087 154.98 L1088.5 149.57 L1090 144.26 L1091.5 139.1 L1093 134.11 L1094.5 129.31 L1096 124.75 L1097.5 120.45 L1099 116.43 L1100.5 112.74 L1102 109.38 L1103.5 106.38 L1105 103.77 L1106.5 101.57 L1108 99.78 L1109.5 98.43 L1111 97.52 L1112.5 97.06 L1114 97.05 L1115.5 97.52 L1117 98.47 L1118.5 99.89 L1120 101.77 L1121.5 104.1 L1123 106.85 L1124.5 110.01 L1126 113.56 L1127.5 117.45 L1129 121.68 L1130.5 126.19 L1132 130.97 L1133.5 135.97 L1135 141.17 L1136.5 146.52 L1138 152 L1139.5 157.57 L1141 163.2 L1142.5 168.86 L1144 174.52 L1145.5 180.15 L1147 185.74 L1148.5 191.26 L1150 196.68 L1151.5 202.01 L1153 207.2 L1154.5 212.27 L1156 217.19 L1157.5 221.95 L1159 226.54 L1160.5 230.96 L1162 235.2 L1163.5 239.26 L1165 243.13 L1166.5 246.81 L1168 250.29 L1169.5 253.58 L1171 256.68 L1172.5 259.59 L1174 262.31 L1175.5 264.86 L1177 267.22 L1178.5 269.42 L1180 271.45 L1181.5 273.33 L1183 275.06 L1184.5 276.65 L1186 278.1 L1187.5 279.44 L1189 280.65 L1190.5 281.76 L1192 282.77 L1193.5 283.69 L1195 284.52 L1196.5 285.27 L1198 285.96 L1199.5 286.58 L1201 287.15 L1202.5 287.66 L1204 288.12 L1205.5 288.55 L1207 288.93 L1208.5 289.28 L1210 289.61 L1211.5 289.9 L1213 290.18 L1214.5 290.43 L1216 290.67 L1217.5 290.89 L1219 291.1 L1220.5 291.29 L1222 291.48 L1223.5 291.65 L1225 291.82 L1226.5 291.99 L1228 292.15 L1229.5 292.3 L1231 292.45 L1232.5 292.6 L1234 292.74 L1235.5 292.88 L1237 293.02 L1238.5 293.16 L1240 293.29 L1241.5 293.43 L1243 293.56 L1244.5 293.69 L1246 293.83 L1247.5 293.96 L1249 294.09 L1250.5 294.22 L1252 294.35 L1253.5 294.48 L1255 294.61 L1256.5 294.74 L1258 294.87 L1259.5 295 L1261 295.13 L1262.5 295.26 L1264 295.39 L1265.5 295.52 L1267 295.65 L1268.5 295.78 L1270 295.91" fill="none" stroke="#f01010" stroke-width="1.25" stroke-linejoin="round"/>
</g>
<line x1="1425" y1="11.8" x2="1425" y2="170.3" stroke="#000" stroke-width="3.4" stroke-linecap="butt"/>
<line x1="1425" y1="194.96" x2="1425" y2="344.8" stroke="#000" stroke-width="3.4" stroke-linecap="butt"/>
<line x1="1416.7" y1="170.3" x2="1433" y2="170.3" stroke="#000" stroke-width="3.4" stroke-linecap="butt"/>
<text transform="translate(1412,179.3) scale(1,1.04)" font-family="'Liberation Sans', Arial, sans-serif" font-size="25" font-weight="bold" fill="#000" text-anchor="end">20</text>
<line x1="1414.5" y1="118.03" x2="1425" y2="118.03" stroke="#000" stroke-width="3.4" stroke-linecap="butt"/>
<text transform="translate(1412,127.03) scale(1,1.04)" font-family="'Liberation Sans', Arial, sans-serif" font-size="25" font-weight="bold" fill="#000" text-anchor="end">40</text>
<line x1="1414.5" y1="65.77" x2="1425" y2="65.77" stroke="#000" stroke-width="3.4" stroke-linecap="butt"/>
<text transform="translate(1412,74.77) scale(1,1.04)" font-family="'Liberation Sans', Arial, sans-serif" font-size="25" font-weight="bold" fill="#000" text-anchor="end">60</text>
<line x1="1414.5" y1="13.5" x2="1425" y2="13.5" stroke="#000" stroke-width="3.4" stroke-linecap="butt"/>
<text transform="translate(1412,22.5) scale(1,1.04)" font-family="'Liberation Sans', Arial, sans-serif" font-size="25" font-weight="bold" fill="#000" text-anchor="end">80</text>
<line x1="1414.5" y1="344.8" x2="1425" y2="344.8" stroke="#000" stroke-width="3.4" stroke-linecap="butt"/>
<text transform="translate(1412,353.8) scale(1,1.04)" font-family="'Liberation Sans', Arial, sans-serif" font-size="25" font-weight="bold" fill="#000" text-anchor="end">0</text>
<line x1="1414.5" y1="307.34" x2="1425" y2="307.34" stroke="#000" stroke-width="3.4" stroke-linecap="butt"/>
<text transform="translate(1412,316.34) scale(1,1.04)" font-family="'Liberation Sans', Arial, sans-serif" font-size="25" font-weight="bold" fill="#000" text-anchor="end">2</text>
<line x1="1414.5" y1="269.88" x2="1425" y2="269.88" stroke="#000" stroke-width="3.4" stroke-linecap="butt"/>
<text transform="translate(1412,278.88) scale(1,1.04)" font-family="'Liberation Sans', Arial, sans-serif" font-size="25" font-weight="bold" fill="#000" text-anchor="end">4</text>
<line x1="1414.5" y1="232.42" x2="1425" y2="232.42" stroke="#000" stroke-width="3.4" stroke-linecap="butt"/>
<text transform="translate(1412,241.42) scale(1,1.04)" font-family="'Liberation Sans', Arial, sans-serif" font-size="25" font-weight="bold" fill="#000" text-anchor="end">6</text>
<line x1="1416.7" y1="194.96" x2="1433" y2="194.96" stroke="#000" stroke-width="3.4" stroke-linecap="butt"/>
<text transform="translate(1412,203.96) scale(1,1.04)" font-family="'Liberation Sans', Arial, sans-serif" font-size="25" font-weight="bold" fill="#000" text-anchor="end">8</text>
<line x1="1414.5" y1="344.8" x2="1918.8" y2="344.8" stroke="#000" stroke-width="3.4" stroke-linecap="butt"/>
<line x1="1466.4" y1="344.8" x2="1466.4" y2="355.3" stroke="#000" stroke-width="3.4" stroke-linecap="butt"/>
<line x1="1548.2" y1="344.8" x2="1548.2" y2="355.3" stroke="#000" stroke-width="3.4" stroke-linecap="butt"/>
<line x1="1630.4" y1="344.8" x2="1630.4" y2="355.3" stroke="#000" stroke-width="3.4" stroke-linecap="butt"/>
<line x1="1712.6" y1="344.8" x2="1712.6" y2="355.3" stroke="#000" stroke-width="3.4" stroke-linecap="butt"/>
<line x1="1794.4" y1="344.8" x2="1794.4" y2="355.3" stroke="#000" stroke-width="3.4" stroke-linecap="butt"/>
<line x1="1876.6" y1="344.8" x2="1876.6" y2="355.3" stroke="#000" stroke-width="3.4" stroke-linecap="butt"/>
<rect x="1439" y="295.3" width="54.8" height="49.5" fill="#000"/>
<line x1="1452.7" y1="290.5" x2="1480.1" y2="290.5" stroke="#ff0000" stroke-width="4.2" stroke-linecap="butt"/>
<line x1="1466.4" y1="290.5" x2="1466.4" y2="296.3" stroke="#ff0000" stroke-width="4.2" stroke-linecap="butt"/>
<rect x="1520.8" y="251.8" width="54.8" height="93" fill="#000"/>
<line x1="1534.5" y1="237" x2="1561.9" y2="237" stroke="#ff0000" stroke-width="4.2" stroke-linecap="butt"/>
<line x1="1548.2" y1="237" x2="1548.2" y2="252.8" stroke="#ff0000" stroke-width="4.2" stroke-linecap="butt"/>
<rect x="1603" y="76" width="54.8" height="94.3" fill="#000"/>
<rect x="1603" y="194.96" width="54.8" height="149.84" fill="#000"/>
<line x1="1616.7" y1="72.6" x2="1644.1" y2="72.6" stroke="#ff0000" stroke-width="4.2" stroke-linecap="butt"/>
<line x1="1630.4" y1="72.6" x2="1630.4" y2="77" stroke="#ff0000" stroke-width="4.2" stroke-linecap="butt"/>
<rect x="1685.2" y="47" width="54.8" height="123.3" fill="#000"/>
<rect x="1685.2" y="194.96" width="54.8" height="149.84" fill="#000"/>
<line x1="1698.9" y1="41.5" x2="1726.3" y2="41.5" stroke="#ff0000" stroke-width="4.2" stroke-linecap="butt"/>
<line x1="1712.6" y1="41.5" x2="1712.6" y2="48" stroke="#ff0000" stroke-width="4.2" stroke-linecap="butt"/>
<rect x="1767" y="116.1" width="54.8" height="54.2" fill="#000"/>
<rect x="1767" y="194.96" width="54.8" height="149.84" fill="#000"/>
<line x1="1780.7" y1="112.4" x2="1808.1" y2="112.4" stroke="#ff0000" stroke-width="4.2" stroke-linecap="butt"/>
<line x1="1794.4" y1="112.4" x2="1794.4" y2="117.1" stroke="#ff0000" stroke-width="4.2" stroke-linecap="butt"/>
<rect x="1849.2" y="146" width="54.8" height="24.3" fill="#000"/>
<rect x="1849.2" y="194.96" width="54.8" height="149.84" fill="#000"/>
<line x1="1862.9" y1="139.1" x2="1890.3" y2="139.1" stroke="#ff0000" stroke-width="4.2" stroke-linecap="butt"/>
<line x1="1876.6" y1="139.1" x2="1876.6" y2="147" stroke="#ff0000" stroke-width="4.2" stroke-linecap="butt"/>
<line x1="1610.9" y1="21.3" x2="1724" y2="21.3" stroke="#000" stroke-width="4.4" stroke-linecap="butt"/>
<line x1="1781.5" y1="83.2" x2="1894.2" y2="83.2" stroke="#000" stroke-width="4.4" stroke-linecap="butt"/>
<line x1="1444.8" y1="216.9" x2="1557.8" y2="216.9" stroke="#000" stroke-width="4.4" stroke-linecap="butt"/>
<text transform="translate(1659.35,25.27)" font-family="'Liberation Sans', Arial, sans-serif" font-size="34" font-weight="bold" fill="#ff0000" text-anchor="start">*</text>
<text transform="translate(1836.15,84.87)" font-family="'Liberation Sans', Arial, sans-serif" font-size="34" font-weight="bold" fill="#ff0000" text-anchor="start">*</text>
<text transform="translate(1487.75,217.47)" font-family="'Liberation Sans', Arial, sans-serif" font-size="34" font-weight="bold" fill="#ff0000" text-anchor="start">*</text>
<text transform="translate(1367.5,180) rotate(-90) scale(1,1.04)" font-family="'Liberation Sans', Arial, sans-serif" font-size="24" font-weight="bold" fill="#000" text-anchor="middle">% of total</text>
<text transform="translate(1473.9,375.5) rotate(-45)" font-family="'Liberation Sans', Arial, sans-serif" font-size="24.5" font-weight="bold" fill="#000" text-anchor="end">Sham VLDL Chol</text>
<text transform="translate(1555.7,375.5) rotate(-45)" font-family="'Liberation Sans', Arial, sans-serif" font-size="24.5" font-weight="bold" fill="#000" text-anchor="end">Pg VLDL Chol</text>
<text transform="translate(1637.9,375.5) rotate(-45)" font-family="'Liberation Sans', Arial, sans-serif" font-size="24.5" font-weight="bold" fill="#000" text-anchor="end">Sham LDL Chol</text>
<text transform="translate(1720.1,375.5) rotate(-45)" font-family="'Liberation Sans', Arial, sans-serif" font-size="24.5" font-weight="bold" fill="#000" text-anchor="end">Pg LDL Chol</text>
<text transform="translate(1801.9,375.5) rotate(-45)" font-family="'Liberation Sans', Arial, sans-serif" font-size="24.5" font-weight="bold" fill="#000" text-anchor="end">Sham HDL Chol</text>
<text transform="translate(1884.1,375.5) rotate(-45)" font-family="'Liberation Sans', Arial, sans-serif" font-size="24.5" font-weight="bold" fill="#000" text-anchor="end">Pg HDL Chol</text>
<text transform="translate(1869.8,499.5)" font-family="'Liberation Sans', Arial, sans-serif" font-size="25.4" font-weight="normal" fill="#000" text-anchor="start">p&lt;0.05</text>
<text transform="translate(1860.61,495.73)" font-family="'Liberation Sans', Arial, sans-serif" font-size="22.5" font-weight="normal" fill="#ff0000" text-anchor="start">*</text>
<text transform="translate(38.4,625.8) scale(1,1.04)" font-family="'Liberation Sans', Arial, sans-serif" font-size="42" font-weight="bold" fill="#000" text-anchor="start">C</text>
<line x1="148.8" y1="616.3" x2="148.8" y2="948.3" stroke="#000" stroke-width="3.4" stroke-linecap="butt"/>
<line x1="139.6" y1="946.6" x2="369.8" y2="946.6" stroke="#000" stroke-width="3.4" stroke-linecap="butt"/>
<line x1="139.6" y1="946.6" x2="148.8" y2="946.6" stroke="#000" stroke-width="3.4" stroke-linecap="butt"/>
<text transform="translate(135.5,955.6) scale(1,1.04)" font-family="'Liberation Sans', Arial, sans-serif" font-size="24.5" font-weight="bold" fill="#000" text-anchor="end">0</text>
<line x1="139.6" y1="880.88" x2="148.8" y2="880.88" stroke="#000" stroke-width="3.4" stroke-linecap="butt"/>
<text transform="translate(135.5,889.88) scale(1,1.04)" font-family="'Liberation Sans', Arial, sans-serif" font-size="24.5" font-weight="bold" fill="#000" text-anchor="end">50</text>
<line x1="139.6" y1="815.16" x2="148.8" y2="815.16" stroke="#000" stroke-width="3.4" stroke-linecap="butt"/>
<text transform="translate(135.5,824.16) scale(1,1.04)" font-family="'Liberation Sans', Arial, sans-serif" font-size="24.5" font-weight="bold" fill="#000" text-anchor="end">100</text>
<line x1="139.6" y1="749.44" x2="148.8" y2="749.44" stroke="#000" stroke-width="3.4" stroke-linecap="butt"/>
<text transform="translate(135.5,758.44) scale(1,1.04)" font-family="'Liberation Sans', Arial, sans-serif" font-size="24.5" font-weight="bold" fill="#000" text-anchor="end">150</text>
<line x1="139.6" y1="683.72" x2="148.8" y2="683.72" stroke="#000" stroke-width="3.4" stroke-linecap="butt"/>
<text transform="translate(135.5,692.72) scale(1,1.04)" font-family="'Liberation Sans', Arial, sans-serif" font-size="24.5" font-weight="bold" fill="#000" text-anchor="end">200</text>
<line x1="139.6" y1="618" x2="148.8" y2="618" stroke="#000" stroke-width="3.4" stroke-linecap="butt"/>
<text transform="translate(135.5,627) scale(1,1.04)" font-family="'Liberation Sans', Arial, sans-serif" font-size="24.5" font-weight="bold" fill="#000" text-anchor="end">250</text>
<line x1="203.6" y1="946.6" x2="203.6" y2="956" stroke="#000" stroke-width="3.4" stroke-linecap="butt"/>
<line x1="313.1" y1="946.6" x2="313.1" y2="956" stroke="#000" stroke-width="3.4" stroke-linecap="butt"/>
<text transform="translate(203.6,982.7) scale(1,1.04)" font-family="'Liberation Sans', Arial, sans-serif" font-size="24.5" font-weight="bold" fill="#000" text-anchor="middle">Sham</text>
<text transform="translate(313.1,982.7) scale(1,1.04)" font-family="'Liberation Sans', Arial, sans-serif" font-size="24.5" font-weight="bold" fill="#000" text-anchor="middle">Pg</text>
<text transform="translate(253.5,1031.2) scale(1,1.04)" font-family="'Liberation Sans', Arial, sans-serif" font-size="25" font-weight="bold" fill="#000" text-anchor="middle">Bone Marrow</text>
<text transform="translate(80,782.9) rotate(-90) scale(1,1.04)" font-family="'Liberation Sans', Arial, sans-serif" font-size="24" font-weight="bold" fill="#000" text-anchor="middle">glucose mg/dL</text>
<circle cx="203.3" cy="725.9" r="6.8" fill="#000"/>
<circle cx="216.5" cy="798.3" r="6.8" fill="#000"/>
<circle cx="190.4" cy="809.9" r="6.8" fill="#000"/>
<circle cx="216.5" cy="813.8" r="6.8" fill="#000"/>
<circle cx="190.4" cy="825.8" r="6.8" fill="#000"/>
<rect x="319.2" y="670.8" width="13.6" height="13.6" fill="#000"/>
<rect x="293.2" y="682.6" width="13.6" height="13.6" fill="#000"/>
<rect x="306.2" y="698.6" width="13.6" height="13.6" fill="#000"/>
<rect x="306.2" y="713" width="13.6" height="13.6" fill="#000"/>
<rect x="306.2" y="725.6" width="13.6" height="13.6" fill="#000"/>
<rect x="306.2" y="745.6" width="13.6" height="13.6" fill="#000"/>
<rect x="319.2" y="758.8" width="13.6" height="13.6" fill="#000"/>
<rect x="293.2" y="761.2" width="13.6" height="13.6" fill="#000"/>
<rect x="319.2" y="775.8" width="13.6" height="13.6" fill="#000"/>
<rect x="293.2" y="778.6" width="13.6" height="13.6" fill="#000"/>
<rect x="293.2" y="795.6" width="13.6" height="13.6" fill="#000"/>
<rect x="319.2" y="804.6" width="13.6" height="13.6" fill="#000"/>
<rect x="293.2" y="815.2" width="13.6" height="13.6" fill="#000"/>
<line x1="167" y1="795" x2="239.8" y2="795" stroke="#ff0000" stroke-width="3.8" stroke-linecap="butt"/>
<line x1="203.6" y1="777.1" x2="203.6" y2="812.6" stroke="#ff0000" stroke-width="5" stroke-linecap="butt"/>
<line x1="185.1" y1="777.1" x2="221.7" y2="777.1" stroke="#ff0000" stroke-width="5" stroke-linecap="butt"/>
<line x1="185.1" y1="812.6" x2="221.7" y2="812.6" stroke="#ff0000" stroke-width="5" stroke-linecap="butt"/>
<line x1="276.6" y1="755" x2="349.4" y2="755" stroke="#ff0000" stroke-width="3.8" stroke-linecap="butt"/>
<line x1="313" y1="742" x2="313" y2="768" stroke="#ff0000" stroke-width="5" stroke-linecap="butt"/>
<line x1="295" y1="742" x2="331.4" y2="742" stroke="#ff0000" stroke-width="5" stroke-linecap="butt"/>
<line x1="295" y1="768" x2="331.4" y2="768" stroke="#ff0000" stroke-width="5" stroke-linecap="butt"/>
<text transform="translate(475.21,626) scale(1,1.04)" font-family="'Liberation Sans', Arial, sans-serif" font-size="42" font-weight="bold" fill="#000" text-anchor="start">D</text>
<line x1="581.4" y1="635.4" x2="581.4" y2="966.4" stroke="#000" stroke-width="3.4" stroke-linecap="butt"/>
<line x1="567.7" y1="964.7" x2="803.3" y2="964.7" stroke="#000" stroke-width="3.4" stroke-linecap="butt"/>
<line x1="567.7" y1="964.7" x2="581.4" y2="964.7" stroke="#000" stroke-width="3.4" stroke-linecap="butt"/>
<text transform="translate(563.5,973.5) scale(1,1.04)" font-family="'Liberation Sans', Arial, sans-serif" font-size="24.5" font-weight="bold" fill="#000" text-anchor="end">0</text>
<line x1="567.7" y1="899.18" x2="581.4" y2="899.18" stroke="#000" stroke-width="3.4" stroke-linecap="butt"/>
<text transform="translate(563.5,907.98) scale(1,1.04)" font-family="'Liberation Sans', Arial, sans-serif" font-size="24.5" font-weight="bold" fill="#000" text-anchor="end">100</text>
<line x1="567.7" y1="833.66" x2="581.4" y2="833.66" stroke="#000" stroke-width="3.4" stroke-linecap="butt"/>
<text transform="translate(563.5,842.46) scale(1,1.04)" font-family="'Liberation Sans', Arial, sans-serif" font-size="24.5" font-weight="bold" fill="#000" text-anchor="end">200</text>
<line x1="567.7" y1="768.14" x2="581.4" y2="768.14" stroke="#000" stroke-width="3.4" stroke-linecap="butt"/>
<text transform="translate(563.5,776.94) scale(1,1.04)" font-family="'Liberation Sans', Arial, sans-serif" font-size="24.5" font-weight="bold" fill="#000" text-anchor="end">300</text>
<line x1="567.7" y1="702.62" x2="581.4" y2="702.62" stroke="#000" stroke-width="3.4" stroke-linecap="butt"/>
<text transform="translate(563.5,711.42) scale(1,1.04)" font-family="'Liberation Sans', Arial, sans-serif" font-size="24.5" font-weight="bold" fill="#000" text-anchor="end">400</text>
<line x1="567.7" y1="637.1" x2="581.4" y2="637.1" stroke="#000" stroke-width="3.4" stroke-linecap="butt"/>
<text transform="translate(563.5,645.9) scale(1,1.04)" font-family="'Liberation Sans', Arial, sans-serif" font-size="24.5" font-weight="bold" fill="#000" text-anchor="end">500</text>
<line x1="590" y1="964.7" x2="590" y2="978.5" stroke="#000" stroke-width="3.4" stroke-linecap="butt"/>
<text transform="translate(590,1005.5) scale(1,1.04)" font-family="'Liberation Sans', Arial, sans-serif" font-size="24.5" font-weight="bold" fill="#000" text-anchor="middle">0</text>
<line x1="642.58" y1="964.7" x2="642.58" y2="978.5" stroke="#000" stroke-width="3.4" stroke-linecap="butt"/>
<text transform="translate(642.58,1005.5) scale(1,1.04)" font-family="'Liberation Sans', Arial, sans-serif" font-size="24.5" font-weight="bold" fill="#000" text-anchor="middle">30</text>
<line x1="695.15" y1="964.7" x2="695.15" y2="978.5" stroke="#000" stroke-width="3.4" stroke-linecap="butt"/>
<text transform="translate(695.15,1005.5) scale(1,1.04)" font-family="'Liberation Sans', Arial, sans-serif" font-size="24.5" font-weight="bold" fill="#000" text-anchor="middle">60</text>
<line x1="747.73" y1="964.7" x2="747.73" y2="978.5" stroke="#000" stroke-width="3.4" stroke-linecap="butt"/>
<text transform="translate(747.73,1005.5) scale(1,1.04)" font-family="'Liberation Sans', Arial, sans-serif" font-size="24.5" font-weight="bold" fill="#000" text-anchor="middle">90</text>
<line x1="800.3" y1="964.7" x2="800.3" y2="978.5" stroke="#000" stroke-width="3.4" stroke-linecap="butt"/>
<text transform="translate(800.3,1005.5) scale(1,1.04)" font-family="'Liberation Sans', Arial, sans-serif" font-size="24.5" font-weight="bold" fill="#000" text-anchor="middle">120</text>
<text transform="translate(691.3,1043.7)" font-family="'Liberation Sans', Arial, sans-serif" font-size="24" font-weight="bold" fill="#000" text-anchor="middle">Time (min)</text>
<text transform="translate(511.3,801.3) rotate(-90) scale(1,1.04)" font-family="'Liberation Sans', Arial, sans-serif" font-size="24" font-weight="bold" fill="#000" text-anchor="middle">glucose (mg/dL)</text>
<text transform="translate(806,623.8) scale(1,1.04)" font-family="'Liberation Sans', Arial, sans-serif" font-size="25" font-weight="normal" fill="#000" text-anchor="middle">Bone Marrow</text>
<line x1="753.3" y1="657.8" x2="788.2" y2="657.8" stroke="#ff0000" stroke-width="2.1" stroke-linecap="butt"/>
<circle cx="771" cy="657.8" r="5.2" fill="#ff0000"/>
<line x1="755.3" y1="686.8" x2="789.9" y2="686.8" stroke="#0000ff" stroke-width="2.1" stroke-linecap="butt"/>
<rect x="767.7" y="681.8" width="10" height="10" fill="#0000ff"/>
<text transform="translate(808,666.5) scale(1,1.04)" font-family="'Liberation Sans', Arial, sans-serif" font-size="24.3" font-weight="normal" fill="#000" text-anchor="start">Sham</text>
<text transform="translate(809.5,695) scale(1,1.04)" font-family="'Liberation Sans', Arial, sans-serif" font-size="24.3" font-weight="normal" fill="#000" text-anchor="start">Pg</text>
<path d="M590 903.9 L616.29 744.4 L642.58 710.9 L668.86 714.7 L695.15 771.2 L800.3 864.7" fill="none" stroke="#0000ff" stroke-width="2.2" stroke-linejoin="round"/>
<rect x="585" y="898.9" width="10" height="10" fill="#0000ff"/>
<rect x="611.29" y="739.4" width="10" height="10" fill="#0000ff"/>
<rect x="637.58" y="705.9" width="10" height="10" fill="#0000ff"/>
<rect x="663.86" y="709.7" width="10" height="10" fill="#0000ff"/>
<rect x="690.15" y="766.2" width="10" height="10" fill="#0000ff"/>
<rect x="795.3" y="859.7" width="10" height="10" fill="#0000ff"/>
<line x1="616.29" y1="730.2" x2="616.29" y2="756.5" stroke="#ff0000" stroke-width="2" stroke-linecap="butt"/>
<line x1="611.59" y1="730.2" x2="620.99" y2="730.2" stroke="#ff0000" stroke-width="2" stroke-linecap="butt"/>
<line x1="611.59" y1="756.5" x2="620.99" y2="756.5" stroke="#ff0000" stroke-width="2" stroke-linecap="butt"/>
<line x1="616.29" y1="734" x2="616.29" y2="759" stroke="#ff0000" stroke-width="2" stroke-linecap="butt"/>
<line x1="611.59" y1="734" x2="620.99" y2="734" stroke="#ff0000" stroke-width="2" stroke-linecap="butt"/>
<line x1="611.59" y1="759" x2="620.99" y2="759" stroke="#ff0000" stroke-width="2" stroke-linecap="butt"/>
<line x1="642.58" y1="697.3" x2="642.58" y2="719.3" stroke="#ff0000" stroke-width="2" stroke-linecap="butt"/>
<line x1="637.88" y1="697.3" x2="647.28" y2="697.3" stroke="#ff0000" stroke-width="2" stroke-linecap="butt"/>
<line x1="637.88" y1="719.3" x2="647.28" y2="719.3" stroke="#ff0000" stroke-width="2" stroke-linecap="butt"/>
<line x1="642.58" y1="702.6" x2="642.58" y2="724.5" stroke="#ff0000" stroke-width="2" stroke-linecap="butt"/>
<line x1="637.88" y1="702.6" x2="647.28" y2="702.6" stroke="#ff0000" stroke-width="2" stroke-linecap="butt"/>
<line x1="637.88" y1="724.5" x2="647.28" y2="724.5" stroke="#ff0000" stroke-width="2" stroke-linecap="butt"/>
<line x1="668.86" y1="704.6" x2="668.86" y2="726.6" stroke="#ff0000" stroke-width="2" stroke-linecap="butt"/>
<line x1="664.16" y1="704.6" x2="673.56" y2="704.6" stroke="#ff0000" stroke-width="2" stroke-linecap="butt"/>
<line x1="664.16" y1="726.6" x2="673.56" y2="726.6" stroke="#ff0000" stroke-width="2" stroke-linecap="butt"/>
<line x1="668.86" y1="708.8" x2="668.86" y2="732.9" stroke="#ff0000" stroke-width="2" stroke-linecap="butt"/>
<line x1="664.16" y1="708.8" x2="673.56" y2="708.8" stroke="#ff0000" stroke-width="2" stroke-linecap="butt"/>
<line x1="664.16" y1="732.9" x2="673.56" y2="732.9" stroke="#ff0000" stroke-width="2" stroke-linecap="butt"/>
<line x1="695.15" y1="734.6" x2="695.15" y2="756.5" stroke="#ff0000" stroke-width="2" stroke-linecap="butt"/>
<line x1="690.45" y1="734.6" x2="699.85" y2="734.6" stroke="#ff0000" stroke-width="2" stroke-linecap="butt"/>
<line x1="690.45" y1="756.5" x2="699.85" y2="756.5" stroke="#ff0000" stroke-width="2" stroke-linecap="butt"/>
<line x1="695.15" y1="756.5" x2="695.15" y2="785.8" stroke="#ff0000" stroke-width="2" stroke-linecap="butt"/>
<line x1="690.45" y1="756.5" x2="699.85" y2="756.5" stroke="#ff0000" stroke-width="2" stroke-linecap="butt"/>
<line x1="690.45" y1="785.8" x2="699.85" y2="785.8" stroke="#ff0000" stroke-width="2" stroke-linecap="butt"/>
<path d="M590 897.2 L616.29 745.5 L642.58 710.3 L668.86 718.2 L695.15 745.5 L800.3 867.2" fill="none" stroke="#ff0000" stroke-width="2.2" stroke-linejoin="round"/>
<circle cx="590" cy="897.2" r="5.2" fill="#ff0000"/>
<circle cx="616.29" cy="745.5" r="5.2" fill="#ff0000"/>
<circle cx="642.58" cy="710.3" r="5.2" fill="#ff0000"/>
<circle cx="668.86" cy="718.2" r="5.2" fill="#ff0000"/>
<circle cx="695.15" cy="745.5" r="5.2" fill="#ff0000"/>
<circle cx="800.3" cy="867.2" r="5.2" fill="#ff0000"/>
</svg>
</body></html>
